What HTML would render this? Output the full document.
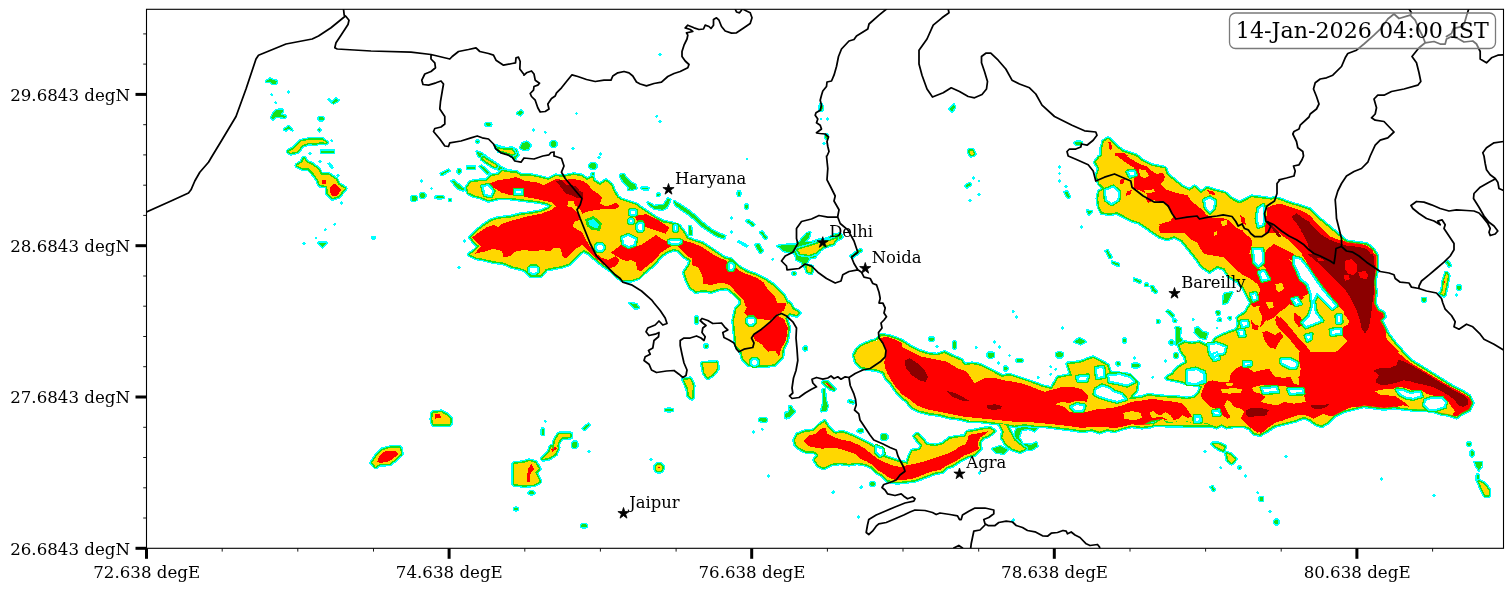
<!DOCTYPE html><html><head><meta charset="utf-8"><title>map</title><style>html,body{margin:0;padding:0;background:#fff;overflow:hidden}svg{display:block}text{font-family:"DejaVu Serif","Liberation Serif",serif;fill:#000}</style></head><body>
<svg width="1512" height="591" viewBox="0 0 1512 591">
<rect width="1512" height="591" fill="#fff"/>
<defs><clipPath id="ax"><rect x="146.5" y="9.3" width="1357.0" height="539.0"/></clipPath></defs>
<g clip-path="url(#ax)">
<g shape-rendering="crispEdges">
<path d="M270.9,94.8 L271.8,93.9 L272.6,94.8 L271.8,95.6Z M287.6,92.0 L288.5,91.1 L289.4,92.0 L288.5,92.9Z M274.9,102.8 L275.8,101.9 L276.6,102.8 L275.8,103.6Z M330.9,140.8 L331.8,139.9 L332.6,140.8 L331.8,141.6Z M308.9,153.5 L309.8,152.6 L310.6,153.5 L309.8,154.4Z M476.4,141.5 L477.2,140.6 L478.1,141.5 L477.2,142.4Z M658.9,54.5 L659.8,53.6 L660.6,54.5 L659.8,55.4Z M575.6,113.5 L576.5,112.6 L577.4,113.5 L576.5,114.4Z M655.9,116.2 L656.8,115.4 L657.6,116.2 L656.8,117.1Z M659.4,121.5 L660.2,120.6 L661.1,121.5 L660.2,122.4Z M532.6,130.0 L533.5,129.1 L534.4,130.0 L533.5,130.9Z M544.4,132.2 L545.2,131.4 L546.1,132.2 L545.2,133.1Z M572.4,148.5 L573.2,147.6 L574.1,148.5 L573.2,149.4Z M599.4,154.0 L600.2,153.1 L601.1,154.0 L600.2,154.9Z M820.1,119.0 L821.0,118.1 L821.9,119.0 L821.0,119.9Z M826.4,119.0 L827.2,118.1 L828.1,119.0 L827.2,119.9Z M823.1,143.5 L824.0,142.6 L824.9,143.5 L824.0,144.4Z M319.4,161.5 L320.2,160.6 L321.1,161.5 L320.2,162.4Z M337.1,175.5 L338.0,174.6 L338.9,175.5 L338.0,176.4Z M340.6,202.8 L341.5,201.9 L342.4,202.8 L341.5,203.6Z M333.9,224.2 L334.8,223.4 L335.6,224.2 L334.8,225.1Z M324.4,229.8 L325.2,228.9 L326.1,229.8 L325.2,230.6Z M315.1,238.0 L316.0,237.1 L316.9,238.0 L316.0,238.9Z M303.1,243.5 L304.0,242.6 L304.9,243.5 L304.0,244.4Z M458.1,267.8 L459.0,266.9 L459.9,267.8 L459.0,268.6Z M463.9,241.0 L464.8,240.1 L465.6,241.0 L464.8,241.9Z M448.4,200.2 L449.2,199.4 L450.1,200.2 L449.2,201.1Z M420.6,181.0 L421.5,180.1 L422.4,181.0 L421.5,181.9Z M430.6,188.5 L431.5,187.6 L432.4,188.5 L431.5,189.4Z M972.4,178.0 L973.2,177.1 L974.1,178.0 L973.2,178.9Z M978.1,181.0 L979.0,180.1 L979.9,181.0 L979.0,181.9Z M978.1,194.2 L979.0,193.4 L979.9,194.2 L979.0,195.1Z M969.1,200.2 L970.0,199.4 L970.9,200.2 L970.0,201.1Z M1058.6,167.2 L1059.5,166.4 L1060.4,167.2 L1059.5,168.1Z M1058.6,173.5 L1059.5,172.6 L1060.4,173.5 L1059.5,174.4Z M1058.6,181.0 L1059.5,180.1 L1060.4,181.0 L1059.5,181.9Z M1064.9,186.5 L1065.8,185.6 L1066.6,186.5 L1065.8,187.4Z M1080.6,227.2 L1081.5,226.4 L1082.4,227.2 L1081.5,228.1Z M1146.1,286.0 L1147.0,285.1 L1147.9,286.0 L1147.0,286.9Z M746.1,159.0 L747.0,158.1 L747.9,159.0 L747.0,159.9Z M598.1,157.2 L599.0,156.4 L599.9,157.2 L599.0,158.1Z M730.6,218.0 L731.5,217.1 L732.4,218.0 L731.5,218.9Z M730.6,232.2 L731.5,231.4 L732.4,232.2 L731.5,233.1Z M771.9,259.2 L772.8,258.4 L773.6,259.2 L772.8,260.1Z M544.4,421.2 L545.2,420.4 L546.1,421.2 L545.2,422.1Z M752.6,431.8 L753.5,430.9 L754.4,431.8 L753.5,432.6Z M761.4,429.2 L762.2,428.4 L763.1,429.2 L762.2,430.1Z M522.6,484.0 L523.5,483.1 L524.4,484.0 L523.5,484.9Z M588.1,451.5 L589.0,450.6 L589.9,451.5 L589.0,452.4Z M650.1,459.5 L651.0,458.6 L651.9,459.5 L651.0,460.4Z M767.6,476.0 L768.5,475.1 L769.4,476.0 L768.5,476.9Z M832.6,492.2 L833.5,491.4 L834.4,492.2 L833.5,493.1Z M860.6,487.0 L861.5,486.1 L862.4,487.0 L861.5,487.9Z M857.6,517.2 L858.5,516.4 L859.4,517.2 L858.5,518.1Z M1012.4,519.8 L1013.2,518.9 L1014.1,519.8 L1013.2,520.6Z M978.6,473.5 L979.5,472.6 L980.4,473.5 L979.5,474.4Z M1204.4,451.5 L1205.2,450.6 L1206.1,451.5 L1205.2,452.4Z M1219.9,467.8 L1220.8,466.9 L1221.6,467.8 L1220.8,468.6Z M1244.9,476.0 L1245.8,475.1 L1246.6,476.0 L1245.8,476.9Z M1256.9,492.8 L1257.8,491.9 L1258.6,492.8 L1257.8,493.6Z M1269.1,511.5 L1270.0,510.6 L1270.9,511.5 L1270.0,512.4Z M1284.9,456.5 L1285.8,455.6 L1286.6,456.5 L1285.8,457.4Z M1380.6,479.0 L1381.5,478.1 L1382.4,479.0 L1381.5,479.9Z M1433.1,495.2 L1434.0,494.4 L1434.9,495.2 L1434.0,496.1Z M860.4,487.5 L861.2,486.6 L862.1,487.5 L861.2,488.4Z M832.4,492.5 L833.2,491.6 L834.1,492.5 L833.2,493.4Z M767.9,475.8 L768.8,474.9 L769.6,475.8 L768.8,476.6Z M761.6,429.5 L762.5,428.6 L763.4,429.5 L762.5,430.4Z M857.4,517.0 L858.2,516.1 L859.1,517.0 L858.2,517.9Z M1012.1,520.5 L1013.0,519.6 L1013.9,520.5 L1013.0,521.4Z M978.4,473.0 L979.2,472.1 L980.1,473.0 L979.2,473.9Z M1455.6,294.8 L1456.5,293.9 L1457.4,294.8 L1456.5,295.6Z M936.0,346.8 L937.0,345.8 L938.0,346.8 L937.0,347.8Z M975.2,347.2 L976.2,346.2 L977.2,347.2 L976.2,348.2Z M993.5,341.8 L994.5,340.8 L995.5,341.8 L994.5,342.8Z M998.5,346.8 L999.5,345.8 L1000.5,346.8 L999.5,347.8Z M1008.5,355.5 L1009.5,354.5 L1010.5,355.5 L1009.5,356.5Z M997.2,363.0 L998.2,362.0 L999.2,363.0 L998.2,364.0Z M1037.2,377.2 L1038.2,376.2 L1039.2,377.2 L1038.2,378.2Z M1049.8,366.8 L1050.8,365.8 L1051.8,366.8 L1050.8,367.8Z M1049.8,374.2 L1050.8,373.2 L1051.8,374.2 L1050.8,375.2Z M1054.8,369.2 L1055.8,368.2 L1056.8,369.2 L1055.8,370.2Z M1012.2,311.8 L1013.2,310.8 L1014.2,311.8 L1013.2,312.8Z M1015.5,317.2 L1016.5,316.2 L1017.5,317.2 L1016.5,318.2Z M1061.8,328.0 L1062.8,327.0 L1063.8,328.0 L1062.8,329.0Z M1133.5,358.0 L1134.5,357.0 L1135.5,358.0 L1134.5,359.0Z M1151.8,377.2 L1152.8,376.2 L1153.8,377.2 L1152.8,378.2Z M1156.5,321.0 L1157.5,320.0 L1158.5,321.0 L1157.5,322.0Z M1174.8,320.5 L1175.8,319.5 L1176.8,320.5 L1175.8,321.5Z M1164.8,361.0 L1165.8,360.0 L1166.8,361.0 L1165.8,362.0Z M1192.2,319.8 L1193.2,318.8 L1194.2,319.8 L1193.2,320.8Z M1217.2,320.5 L1218.2,319.5 L1219.2,320.5 L1218.2,321.5Z M1216.0,328.0 L1217.0,327.0 L1218.0,328.0 L1217.0,329.0Z M1228.5,318.0 L1229.5,317.0 L1230.5,318.0 L1229.5,319.0Z M371.5,237.1 L372.5,236.5 L374.5,236.5 L375.5,237.1 L375.5,238.4 L374.5,239.0 L372.5,239.0 L371.5,238.4Z M328.0,163.5 L329.8,163.0 L333.0,167.2 L331.5,168.5Z M441.0,173.0 L448.5,169.8 L449.8,171.5 L443.5,174.8Z M641.5,187.2 L649.0,188.5 L648.5,190.5 L641.5,189.0Z M738.5,240.5 L747.8,245.5 L746.5,247.0 L737.8,242.2Z" fill="#00ffff" stroke="#00ffff" stroke-width="1.4"/>
<path d="M266.0,81.5 L269.8,78.5 L273.5,80.2 L277.2,81.0 L276.0,83.5 L272.2,84.0 L269.8,81.5Z M328.5,99.5 L332.2,102.0 L336.0,98.5 L338.5,100.2 L333.5,103.5Z M276.0,110.2 L282.2,109.5 L283.0,112.0 L279.8,114.0 L286.0,116.0 L284.8,117.8 L276.0,116.5 L273.5,119.5 L271.0,117.8 L273.5,112.8Z M318.5,118.0 L319.8,117.2 L322.2,117.2 L323.5,118.0 L323.5,119.5 L322.2,120.2 L319.8,120.2 L318.5,119.5Z M284.2,129.5 L288.5,126.0 L292.2,130.2 L288.5,128.5 L286.0,130.8Z M318.0,130.0 L319.2,128.8 L320.5,130.0 L319.2,131.2Z M321.0,150.5 L333.5,150.5 L333.5,152.5 L321.0,152.5Z M517.2,113.5 L521.0,110.2 L523.0,112.0 L520.5,115.2Z M485.8,123.9 L487.1,123.2 L489.9,123.2 L491.2,123.9 L491.2,125.1 L489.9,125.8 L487.1,125.8 L485.8,125.1Z M550.8,142.8 L552.1,141.5 L554.9,141.5 L556.2,142.8 L556.2,145.2 L554.9,146.5 L552.1,146.5 L550.8,145.2Z M819.5,106.1 L820.2,104.5 L821.8,104.5 L822.5,106.1 L822.5,109.4 L821.8,111.0 L820.2,111.0 L819.5,109.4Z M825.2,135.5 L825.9,134.5 L827.1,134.5 L827.8,135.5 L827.8,137.5 L827.1,138.5 L825.9,138.5 L825.2,137.5Z M949.5,109.0 L954.0,104.8 L955.0,107.0 L952.0,112.0Z M1074.8,142.5 L1076.5,141.8 L1080.0,141.8 L1081.8,142.5 L1081.8,144.0 L1080.0,144.8 L1076.5,144.8 L1074.8,144.0Z M318.5,242.8 L326.5,242.8 L322.5,247.2Z M411.5,197.4 L412.8,196.2 L415.2,196.2 L416.5,197.4 L416.5,199.6 L415.2,200.8 L412.8,200.8 L411.5,199.6Z M420.2,194.4 L421.5,193.2 L424.0,193.2 L425.2,194.4 L425.2,196.6 L424.0,197.8 L421.5,197.8 L420.2,196.6Z M435.5,196.8 L437.6,196.2 L441.9,196.2 L444.0,196.8 L444.0,197.8 L441.9,198.2 L437.6,198.2 L435.5,197.8Z M457.5,170.6 L458.2,169.8 L459.8,169.8 L460.5,170.6 L460.5,172.4 L459.8,173.2 L458.2,173.2 L457.5,172.4Z M467.2,166.5 L474.8,166.5 L474.8,168.5 L467.2,168.5Z M479.8,166.5 L483.5,167.2 L487.2,171.0 L484.8,171.5Z M451.5,181.0 L454.0,180.5 L459.8,186.0 L464.8,189.0 L463.0,190.5 L457.2,188.0Z M965.0,186.0 L970.0,183.0 L971.0,184.5 L966.5,187.5Z M1064.5,192.2 L1067.0,191.5 L1070.0,197.2 L1068.0,198.0Z M1105.8,251.0 L1107.5,250.2 L1111.5,257.2 L1109.5,258.0Z M1112.0,261.5 L1119.0,264.0 L1119.0,266.0 L1112.5,263.5Z M1134.0,278.5 L1140.8,281.0 L1140.2,282.8 L1134.0,280.2Z M1150.8,286.5 L1152.8,286.0 L1157.0,292.2 L1155.0,293.0Z M1087.0,210.5 L1092.0,211.5 L1089.0,214.8Z M476.7,151.7 L481.7,153.3 L488.3,158.3 L495.0,162.5 L501.7,167.5 L506.7,170.0 L511.7,170.8 L516.7,173.3 L511.7,175.0 L505.0,173.3 L498.3,170.0 L491.7,165.0 L485.0,160.0 L478.3,155.8Z M495.0,145.0 L500.0,146.7 L506.7,148.3 L511.7,147.5 L516.7,150.0 L518.3,155.0 L515.0,159.2 L511.7,156.7 L506.7,153.3 L500.0,150.8 L495.8,148.3Z M522.5,143.3 L526.7,141.7 L530.8,145.0 L528.3,149.2 L523.3,150.0 L520.0,147.5Z M551.0,142.2 L552.2,141.2 L554.5,141.2 L555.7,142.2 L555.7,144.4 L554.5,145.5 L552.2,145.5 L551.0,144.4Z M485.8,123.7 L487.1,123.2 L489.6,123.2 L490.8,123.7 L490.8,124.7 L489.6,125.2 L487.1,125.2 L485.8,124.7Z M590.5,164.4 L591.9,163.0 L594.8,163.0 L596.2,164.4 L596.2,167.2 L594.8,168.7 L591.9,168.7 L590.5,167.2Z M476.3,141.1 L476.9,140.5 L478.1,140.5 L478.7,141.1 L478.7,142.2 L478.1,142.8 L476.9,142.8 L476.3,142.2Z M457.8,170.1 L458.5,169.3 L459.8,169.3 L460.5,170.1 L460.5,171.6 L459.8,172.3 L458.5,172.3 L457.8,171.6Z M467.5,167.3 L469.2,166.8 L472.5,166.8 L474.2,167.3 L474.2,168.3 L472.5,168.8 L469.2,168.8 L467.5,168.3Z M480.0,166.7 L481.7,165.8 L489.2,172.5 L487.5,173.7Z M440.8,173.7 L448.3,169.7 L449.2,170.8 L441.7,175.0Z M452.0,182.0 L453.7,180.8 L462.5,187.5 L460.8,188.7Z M449.0,199.5 L449.5,199.0 L450.5,199.0 L451.0,199.5 L451.0,200.5 L450.5,201.0 L449.5,201.0 L449.0,200.5Z M641.7,187.9 L643.3,187.5 L646.7,187.5 L648.3,187.9 L648.3,188.7 L646.7,189.2 L643.3,189.2 L641.7,188.7Z M657.0,194.1 L657.7,193.5 L659.0,193.5 L659.7,194.1 L659.7,195.3 L659.0,195.8 L657.7,195.8 L657.0,195.3Z M620.0,175.0 L623.3,174.2 L628.3,181.7 L635.0,184.2 L634.2,188.3 L628.3,190.0 L630.0,185.8 L625.0,183.3 L621.7,178.3Z M1224.0,294.0 L1232.3,292.3 L1227.3,302.3 L1223.2,304.0Z M1166.5,311.5 L1168.2,310.3 L1174.0,316.0 L1172.3,317.3Z M1175.7,327.3 L1180.7,328.2 L1179.8,337.3 L1184.0,342.3 L1180.7,347.3 L1175.7,344.0 L1176.5,334.0Z M1195.7,328.2 L1200.7,332.3 L1207.3,334.0 L1205.7,339.0 L1199.8,337.3 L1194.8,332.3Z M1145.3,284.2 L1145.9,283.7 L1147.1,283.7 L1147.7,284.2 L1147.7,285.4 L1147.1,286.0 L1145.9,286.0 L1145.3,285.4Z M1152.0,289.2 L1152.6,288.7 L1153.8,288.7 L1154.3,289.2 L1154.3,290.4 L1153.8,291.0 L1152.6,291.0 L1152.0,290.4Z M1216.2,311.8 L1216.8,311.2 L1217.9,311.2 L1218.5,311.8 L1218.5,312.9 L1217.9,313.5 L1216.8,313.5 L1216.2,312.9Z M1228.7,317.6 L1229.2,317.0 L1230.4,317.0 L1231.0,317.6 L1231.0,318.8 L1230.4,319.3 L1229.2,319.3 L1228.7,318.8Z M1218.7,319.2 L1219.2,318.7 L1220.4,318.7 L1221.0,319.2 L1221.0,320.4 L1220.4,321.0 L1219.2,321.0 L1218.7,320.4Z M1157.0,320.9 L1157.6,320.3 L1158.8,320.3 L1159.3,320.9 L1159.3,322.1 L1158.8,322.7 L1157.6,322.7 L1157.0,322.1Z M1173.7,320.1 L1174.2,319.5 L1175.4,319.5 L1176.0,320.1 L1176.0,321.2 L1175.4,321.8 L1174.2,321.8 L1173.7,321.2Z M1169.5,341.8 L1170.1,341.2 L1171.2,341.2 L1171.8,341.8 L1171.8,342.9 L1171.2,343.5 L1170.1,343.5 L1169.5,342.9Z M929.2,338.4 L930.4,337.5 L932.6,337.5 L933.8,338.4 L933.8,340.1 L932.6,341.0 L930.4,341.0 L929.2,340.1Z M953.2,343.0 L953.9,341.0 L955.1,341.0 L955.8,343.0 L955.8,347.0 L955.1,349.0 L953.9,349.0 L953.2,347.0Z M987.6,353.8 L989.2,352.5 L992.3,352.5 L993.9,353.8 L993.9,356.2 L992.3,357.5 L989.2,357.5 L987.6,356.2Z M1016.5,359.9 L1018.0,359.2 L1021.0,359.2 L1022.5,359.9 L1022.5,361.1 L1021.0,361.8 L1018.0,361.8 L1016.5,361.1Z M1004.0,367.6 L1004.9,366.8 L1006.6,366.8 L1007.5,367.6 L1007.5,369.4 L1006.6,370.2 L1004.9,370.2 L1004.0,369.4Z M1056.4,353.5 L1057.9,352.2 L1061.1,352.2 L1062.6,353.5 L1062.6,356.0 L1061.1,357.2 L1057.9,357.2 L1056.4,356.0Z M1123.0,339.6 L1123.8,338.8 L1125.2,338.8 L1126.0,339.6 L1126.0,341.4 L1125.2,342.2 L1123.8,342.2 L1123.0,341.4Z M1116.8,363.0 L1117.5,362.2 L1119.0,362.2 L1119.8,363.0 L1119.8,364.5 L1119.0,365.2 L1117.5,365.2 L1116.8,364.5Z M1132.0,364.6 L1133.9,363.8 L1137.6,363.8 L1139.5,364.6 L1139.5,366.4 L1137.6,367.2 L1133.9,367.2 L1132.0,366.4Z M1177.0,329.0 L1177.6,327.0 L1178.9,327.0 L1179.5,329.0 L1179.5,333.0 L1178.9,335.0 L1177.6,335.0 L1177.0,333.0Z M1170.0,341.6 L1170.8,340.8 L1172.2,340.8 L1173.0,341.6 L1173.0,343.4 L1172.2,344.2 L1170.8,344.2 L1170.0,343.4Z M1174.0,354.2 L1174.9,353.0 L1176.6,353.0 L1177.5,354.2 L1177.5,356.8 L1176.6,358.0 L1174.9,358.0 L1174.0,356.8Z M1216.8,312.1 L1217.5,311.2 L1219.0,311.2 L1219.8,312.1 L1219.8,313.9 L1219.0,314.8 L1217.5,314.8 L1216.8,313.9Z M1074.5,341.8 L1079.5,338.0 L1085.8,341.8 L1080.8,344.2Z M1166.5,311.5 L1168.5,310.5 L1174.0,315.5 L1172.0,316.8Z M1195.8,328.0 L1198.2,327.5 L1202.0,331.8 L1207.5,333.0 L1207.0,335.5 L1200.8,334.2Z M620.2,176.0 L624.0,174.8 L629.0,181.0 L635.2,184.8 L636.5,188.5 L631.5,189.8 L626.5,184.8 L622.8,181.0Z M647.8,202.2 L654.0,206.0 L664.0,204.8 L667.8,198.5 L670.2,199.8 L667.0,207.2 L662.8,209.8 L654.0,208.5 L649.0,204.8Z M674.0,201.0 L680.2,204.8 L687.8,209.8 L694.0,214.8 L699.0,219.8 L705.2,224.8 L711.5,229.8 L719.0,233.5 L725.2,236.0 L724.0,238.5 L716.5,236.0 L709.0,231.0 L701.5,226.0 L695.2,219.8 L689.0,214.8 L681.5,209.8 L675.2,204.8Z M737.8,192.5 L738.4,191.5 L739.6,191.5 L740.2,192.5 L740.2,194.5 L739.6,195.5 L738.4,195.5 L737.8,194.5Z M745.2,205.8 L745.9,204.8 L747.1,204.8 L747.8,205.8 L747.8,207.8 L747.1,208.8 L745.9,208.8 L745.2,207.8Z M746.5,221.0 L748.5,220.0 L754.5,224.5 L753.0,226.0Z M760.2,232.2 L762.2,231.5 L767.0,238.0 L765.2,239.0Z M755.2,244.8 L759.0,244.0 L762.8,251.0 L760.2,253.0Z M689.0,226.0 L691.0,226.0 L692.0,234.8 L689.5,234.8Z M589.2,164.9 L590.4,163.8 L592.6,163.8 L593.8,164.9 L593.8,167.1 L592.6,168.2 L590.4,168.2 L589.2,167.1Z M591.5,174.0 L592.1,173.2 L593.4,173.2 L594.0,174.0 L594.0,175.5 L593.4,176.2 L592.1,176.2 L591.5,175.5Z M792.5,272.8 L793.2,272.0 L794.8,272.0 L795.5,272.8 L795.5,274.2 L794.8,275.0 L793.2,275.0 L792.5,274.2Z M850.5,256.0 L860.5,249.0 L862.0,250.5 L852.0,258.0Z M777.8,246.0 L786.5,244.8 L795.2,244.8 L800.2,241.0 L806.5,233.5 L810.2,232.2 L809.0,237.2 L804.0,242.2 L811.5,242.2 L819.0,239.8 L827.8,238.5 L834.0,234.8 L840.2,233.5 L842.8,237.2 L836.5,241.0 L829.0,244.8 L822.8,247.2 L819.0,252.2 L815.2,257.2 L809.0,258.5 L806.5,263.5 L811.5,269.8 L809.0,273.5 L805.2,268.5 L801.5,262.2 L796.5,259.8 L795.2,253.5 L789.0,252.2 L784.0,251.0Z M695.0,318.4 L695.8,316.8 L697.2,316.8 L698.0,318.4 L698.0,321.6 L697.2,323.2 L695.8,323.2 L695.0,321.6Z M704.5,345.2 L705.2,344.5 L706.8,344.5 L707.5,345.2 L707.5,346.8 L706.8,347.5 L705.2,347.5 L704.5,346.8Z M665.2,409.4 L667.1,408.8 L670.9,408.8 L672.8,409.4 L672.8,410.6 L670.9,411.2 L667.1,411.2 L665.2,410.6Z M541.5,430.1 L542.1,428.5 L543.4,428.5 L544.0,430.1 L544.0,433.4 L543.4,435.0 L542.1,435.0 L541.5,433.4Z M582.8,428.5 L588.5,423.8 L590.0,425.0 L584.0,430.0Z M572.2,443.0 L573.5,441.8 L576.0,441.8 L577.2,443.0 L577.2,445.5 L576.0,446.8 L573.5,446.8 L572.2,445.5Z M803.8,347.6 L804.5,346.8 L806.0,346.8 L806.8,347.6 L806.8,349.4 L806.0,350.2 L804.5,350.2 L803.8,349.4Z M822.8,389.2 L824.8,389.2 L826.0,403.0 L827.8,405.5 L826.5,410.5 L823.5,410.5Z M789.0,406.8 L791.0,406.0 L794.0,411.8 L792.0,413.0Z M785.2,414.1 L785.9,412.8 L787.1,412.8 L787.8,414.1 L787.8,416.9 L787.1,418.2 L785.9,418.2 L785.2,416.9Z M759.2,419.0 L761.0,418.2 L764.5,418.2 L766.2,419.0 L766.2,420.5 L764.5,421.2 L761.0,421.2 L759.2,420.5Z M849.0,400.0 L854.0,401.8 L853.5,403.5 L848.5,402.0Z M881.8,435.4 L883.1,434.0 L885.9,434.0 L887.2,435.4 L887.2,438.1 L885.9,439.5 L883.1,439.5 L881.8,438.1Z M857.8,430.4 L859.0,429.8 L861.5,429.8 L862.8,430.4 L862.8,431.6 L861.5,432.2 L859.0,432.2 L857.8,431.6Z M629.0,303.0 L636.5,304.2 L639.0,308.0 L635.2,308.5 L631.5,305.5Z M514.2,508.4 L515.1,507.8 L516.9,507.8 L517.8,508.4 L517.8,509.6 L516.9,510.2 L515.1,510.2 L514.2,509.6Z M528.8,492.0 L530.1,491.2 L532.9,491.2 L534.2,492.0 L534.2,493.5 L532.9,494.2 L530.1,494.2 L528.8,493.5Z M581.2,525.0 L582.6,524.2 L585.4,524.2 L586.8,525.0 L586.8,526.5 L585.4,527.2 L582.6,527.2 L581.2,526.5Z M870.0,483.0 L871.1,482.0 L873.4,482.0 L874.5,483.0 L874.5,485.0 L873.4,486.0 L871.1,486.0 L870.0,485.0Z M572.2,444.0 L573.5,442.8 L576.0,442.8 L577.2,444.0 L577.2,446.5 L576.0,447.8 L573.5,447.8 L572.2,446.5Z M1238.5,467.1 L1239.0,466.5 L1240.0,466.5 L1240.5,467.1 L1240.5,468.4 L1240.0,469.0 L1239.0,469.0 L1238.5,468.4Z M1210.8,487.0 L1212.5,486.0 L1215.0,490.0 L1213.5,491.0Z M1259.5,498.0 L1260.4,497.0 L1262.1,497.0 L1263.0,498.0 L1263.0,500.0 L1262.1,501.0 L1260.4,501.0 L1259.5,500.0Z M1274.2,520.9 L1275.2,519.8 L1277.2,519.8 L1278.2,520.9 L1278.2,523.1 L1277.2,524.2 L1275.2,524.2 L1274.2,523.1Z M1467.0,443.2 L1468.0,442.5 L1470.0,442.5 L1471.0,443.2 L1471.0,444.8 L1470.0,445.5 L1468.0,445.5 L1467.0,444.8Z M1470.5,452.1 L1471.2,450.8 L1472.8,450.8 L1473.5,452.1 L1473.5,454.9 L1472.8,456.2 L1471.2,456.2 L1470.5,454.9Z M1476.5,476.1 L1477.1,474.5 L1478.4,474.5 L1479.0,476.1 L1479.0,479.4 L1478.4,481.0 L1477.1,481.0 L1476.5,479.4Z M1474.5,462.0 L1482.0,462.0 L1481.5,466.5 L1479.0,470.2 L1477.0,467.8Z M1446.0,262.2 L1447.8,261.0 L1451.0,265.5 L1449.0,266.5Z M1457.0,286.8 L1458.0,285.8 L1460.0,285.8 L1461.0,286.8 L1461.0,288.8 L1460.0,289.8 L1458.0,289.8 L1457.0,288.8Z M1422.0,298.9 L1423.0,298.0 L1425.0,298.0 L1426.0,298.9 L1426.0,300.6 L1425.0,301.5 L1423.0,301.5 L1422.0,300.6Z M821.2,411.2 L823.8,401.2 L827.0,402.5 L825.5,410.0Z M786.2,415.0 L791.2,407.5 L795.0,411.2 L788.8,417.5Z M760.8,419.1 L762.2,418.2 L765.2,418.2 L766.8,419.1 L766.8,420.9 L765.2,421.8 L762.2,421.8 L760.8,420.9Z M881.2,435.5 L882.5,434.0 L885.0,434.0 L886.2,435.5 L886.2,438.5 L885.0,440.0 L882.5,440.0 L881.2,438.5Z M859.8,429.8 L860.5,429.0 L862.0,429.0 L862.8,429.8 L862.8,431.2 L862.0,432.0 L860.5,432.0 L859.8,431.2Z M870.0,483.5 L871.2,482.8 L873.8,482.8 L875.0,483.5 L875.0,485.0 L873.8,485.8 L871.2,485.8 L870.0,485.0Z M1017.5,426.2 L1028.8,423.8 L1037.5,427.5 L1035.0,431.2 L1028.8,428.8 L1021.2,430.0 L1018.8,437.5 L1022.5,443.8 L1031.2,445.0 L1036.2,442.5 L1037.5,446.2 L1031.2,450.0 L1021.2,448.8 L1015.0,442.5 L1015.0,432.5Z M992.5,448.8 L1000.0,446.2 L1007.5,450.0 L1003.8,453.8 L996.2,452.5Z" fill="#18e018" stroke="#00ffff" stroke-width="2.8" stroke-linejoin="round"/>
<path d="M266.0,81.5 L269.8,78.5 L273.5,80.2 L277.2,81.0 L276.0,83.5 L272.2,84.0 L269.8,81.5Z M328.5,99.5 L332.2,102.0 L336.0,98.5 L338.5,100.2 L333.5,103.5Z M276.0,110.2 L282.2,109.5 L283.0,112.0 L279.8,114.0 L286.0,116.0 L284.8,117.8 L276.0,116.5 L273.5,119.5 L271.0,117.8 L273.5,112.8Z M318.5,118.0 L319.8,117.2 L322.2,117.2 L323.5,118.0 L323.5,119.5 L322.2,120.2 L319.8,120.2 L318.5,119.5Z M284.2,129.5 L288.5,126.0 L292.2,130.2 L288.5,128.5 L286.0,130.8Z M318.0,130.0 L319.2,128.8 L320.5,130.0 L319.2,131.2Z M321.0,150.5 L333.5,150.5 L333.5,152.5 L321.0,152.5Z M517.2,113.5 L521.0,110.2 L523.0,112.0 L520.5,115.2Z M485.8,123.9 L487.1,123.2 L489.9,123.2 L491.2,123.9 L491.2,125.1 L489.9,125.8 L487.1,125.8 L485.8,125.1Z M550.8,142.8 L552.1,141.5 L554.9,141.5 L556.2,142.8 L556.2,145.2 L554.9,146.5 L552.1,146.5 L550.8,145.2Z M819.5,106.1 L820.2,104.5 L821.8,104.5 L822.5,106.1 L822.5,109.4 L821.8,111.0 L820.2,111.0 L819.5,109.4Z M825.2,135.5 L825.9,134.5 L827.1,134.5 L827.8,135.5 L827.8,137.5 L827.1,138.5 L825.9,138.5 L825.2,137.5Z M949.5,109.0 L954.0,104.8 L955.0,107.0 L952.0,112.0Z M1074.8,142.5 L1076.5,141.8 L1080.0,141.8 L1081.8,142.5 L1081.8,144.0 L1080.0,144.8 L1076.5,144.8 L1074.8,144.0Z M318.5,242.8 L326.5,242.8 L322.5,247.2Z M411.5,197.4 L412.8,196.2 L415.2,196.2 L416.5,197.4 L416.5,199.6 L415.2,200.8 L412.8,200.8 L411.5,199.6Z M420.2,194.4 L421.5,193.2 L424.0,193.2 L425.2,194.4 L425.2,196.6 L424.0,197.8 L421.5,197.8 L420.2,196.6Z M435.5,196.8 L437.6,196.2 L441.9,196.2 L444.0,196.8 L444.0,197.8 L441.9,198.2 L437.6,198.2 L435.5,197.8Z M457.5,170.6 L458.2,169.8 L459.8,169.8 L460.5,170.6 L460.5,172.4 L459.8,173.2 L458.2,173.2 L457.5,172.4Z M467.2,166.5 L474.8,166.5 L474.8,168.5 L467.2,168.5Z M479.8,166.5 L483.5,167.2 L487.2,171.0 L484.8,171.5Z M451.5,181.0 L454.0,180.5 L459.8,186.0 L464.8,189.0 L463.0,190.5 L457.2,188.0Z M965.0,186.0 L970.0,183.0 L971.0,184.5 L966.5,187.5Z M1064.5,192.2 L1067.0,191.5 L1070.0,197.2 L1068.0,198.0Z M1105.8,251.0 L1107.5,250.2 L1111.5,257.2 L1109.5,258.0Z M1112.0,261.5 L1119.0,264.0 L1119.0,266.0 L1112.5,263.5Z M1134.0,278.5 L1140.8,281.0 L1140.2,282.8 L1134.0,280.2Z M1150.8,286.5 L1152.8,286.0 L1157.0,292.2 L1155.0,293.0Z M1087.0,210.5 L1092.0,211.5 L1089.0,214.8Z M476.7,151.7 L481.7,153.3 L488.3,158.3 L495.0,162.5 L501.7,167.5 L506.7,170.0 L511.7,170.8 L516.7,173.3 L511.7,175.0 L505.0,173.3 L498.3,170.0 L491.7,165.0 L485.0,160.0 L478.3,155.8Z M495.0,145.0 L500.0,146.7 L506.7,148.3 L511.7,147.5 L516.7,150.0 L518.3,155.0 L515.0,159.2 L511.7,156.7 L506.7,153.3 L500.0,150.8 L495.8,148.3Z M522.5,143.3 L526.7,141.7 L530.8,145.0 L528.3,149.2 L523.3,150.0 L520.0,147.5Z M551.0,142.2 L552.2,141.2 L554.5,141.2 L555.7,142.2 L555.7,144.4 L554.5,145.5 L552.2,145.5 L551.0,144.4Z M485.8,123.7 L487.1,123.2 L489.6,123.2 L490.8,123.7 L490.8,124.7 L489.6,125.2 L487.1,125.2 L485.8,124.7Z M590.5,164.4 L591.9,163.0 L594.8,163.0 L596.2,164.4 L596.2,167.2 L594.8,168.7 L591.9,168.7 L590.5,167.2Z M476.3,141.1 L476.9,140.5 L478.1,140.5 L478.7,141.1 L478.7,142.2 L478.1,142.8 L476.9,142.8 L476.3,142.2Z M457.8,170.1 L458.5,169.3 L459.8,169.3 L460.5,170.1 L460.5,171.6 L459.8,172.3 L458.5,172.3 L457.8,171.6Z M467.5,167.3 L469.2,166.8 L472.5,166.8 L474.2,167.3 L474.2,168.3 L472.5,168.8 L469.2,168.8 L467.5,168.3Z M480.0,166.7 L481.7,165.8 L489.2,172.5 L487.5,173.7Z M440.8,173.7 L448.3,169.7 L449.2,170.8 L441.7,175.0Z M452.0,182.0 L453.7,180.8 L462.5,187.5 L460.8,188.7Z M449.0,199.5 L449.5,199.0 L450.5,199.0 L451.0,199.5 L451.0,200.5 L450.5,201.0 L449.5,201.0 L449.0,200.5Z M641.7,187.9 L643.3,187.5 L646.7,187.5 L648.3,187.9 L648.3,188.7 L646.7,189.2 L643.3,189.2 L641.7,188.7Z M657.0,194.1 L657.7,193.5 L659.0,193.5 L659.7,194.1 L659.7,195.3 L659.0,195.8 L657.7,195.8 L657.0,195.3Z M620.0,175.0 L623.3,174.2 L628.3,181.7 L635.0,184.2 L634.2,188.3 L628.3,190.0 L630.0,185.8 L625.0,183.3 L621.7,178.3Z M1224.0,294.0 L1232.3,292.3 L1227.3,302.3 L1223.2,304.0Z M1166.5,311.5 L1168.2,310.3 L1174.0,316.0 L1172.3,317.3Z M1175.7,327.3 L1180.7,328.2 L1179.8,337.3 L1184.0,342.3 L1180.7,347.3 L1175.7,344.0 L1176.5,334.0Z M1195.7,328.2 L1200.7,332.3 L1207.3,334.0 L1205.7,339.0 L1199.8,337.3 L1194.8,332.3Z M1145.3,284.2 L1145.9,283.7 L1147.1,283.7 L1147.7,284.2 L1147.7,285.4 L1147.1,286.0 L1145.9,286.0 L1145.3,285.4Z M1152.0,289.2 L1152.6,288.7 L1153.8,288.7 L1154.3,289.2 L1154.3,290.4 L1153.8,291.0 L1152.6,291.0 L1152.0,290.4Z M1216.2,311.8 L1216.8,311.2 L1217.9,311.2 L1218.5,311.8 L1218.5,312.9 L1217.9,313.5 L1216.8,313.5 L1216.2,312.9Z M1228.7,317.6 L1229.2,317.0 L1230.4,317.0 L1231.0,317.6 L1231.0,318.8 L1230.4,319.3 L1229.2,319.3 L1228.7,318.8Z M1218.7,319.2 L1219.2,318.7 L1220.4,318.7 L1221.0,319.2 L1221.0,320.4 L1220.4,321.0 L1219.2,321.0 L1218.7,320.4Z M1157.0,320.9 L1157.6,320.3 L1158.8,320.3 L1159.3,320.9 L1159.3,322.1 L1158.8,322.7 L1157.6,322.7 L1157.0,322.1Z M1173.7,320.1 L1174.2,319.5 L1175.4,319.5 L1176.0,320.1 L1176.0,321.2 L1175.4,321.8 L1174.2,321.8 L1173.7,321.2Z M1169.5,341.8 L1170.1,341.2 L1171.2,341.2 L1171.8,341.8 L1171.8,342.9 L1171.2,343.5 L1170.1,343.5 L1169.5,342.9Z M929.2,338.4 L930.4,337.5 L932.6,337.5 L933.8,338.4 L933.8,340.1 L932.6,341.0 L930.4,341.0 L929.2,340.1Z M953.2,343.0 L953.9,341.0 L955.1,341.0 L955.8,343.0 L955.8,347.0 L955.1,349.0 L953.9,349.0 L953.2,347.0Z M987.6,353.8 L989.2,352.5 L992.3,352.5 L993.9,353.8 L993.9,356.2 L992.3,357.5 L989.2,357.5 L987.6,356.2Z M1016.5,359.9 L1018.0,359.2 L1021.0,359.2 L1022.5,359.9 L1022.5,361.1 L1021.0,361.8 L1018.0,361.8 L1016.5,361.1Z M1004.0,367.6 L1004.9,366.8 L1006.6,366.8 L1007.5,367.6 L1007.5,369.4 L1006.6,370.2 L1004.9,370.2 L1004.0,369.4Z M1056.4,353.5 L1057.9,352.2 L1061.1,352.2 L1062.6,353.5 L1062.6,356.0 L1061.1,357.2 L1057.9,357.2 L1056.4,356.0Z M1123.0,339.6 L1123.8,338.8 L1125.2,338.8 L1126.0,339.6 L1126.0,341.4 L1125.2,342.2 L1123.8,342.2 L1123.0,341.4Z M1116.8,363.0 L1117.5,362.2 L1119.0,362.2 L1119.8,363.0 L1119.8,364.5 L1119.0,365.2 L1117.5,365.2 L1116.8,364.5Z M1132.0,364.6 L1133.9,363.8 L1137.6,363.8 L1139.5,364.6 L1139.5,366.4 L1137.6,367.2 L1133.9,367.2 L1132.0,366.4Z M1177.0,329.0 L1177.6,327.0 L1178.9,327.0 L1179.5,329.0 L1179.5,333.0 L1178.9,335.0 L1177.6,335.0 L1177.0,333.0Z M1170.0,341.6 L1170.8,340.8 L1172.2,340.8 L1173.0,341.6 L1173.0,343.4 L1172.2,344.2 L1170.8,344.2 L1170.0,343.4Z M1174.0,354.2 L1174.9,353.0 L1176.6,353.0 L1177.5,354.2 L1177.5,356.8 L1176.6,358.0 L1174.9,358.0 L1174.0,356.8Z M1216.8,312.1 L1217.5,311.2 L1219.0,311.2 L1219.8,312.1 L1219.8,313.9 L1219.0,314.8 L1217.5,314.8 L1216.8,313.9Z M1074.5,341.8 L1079.5,338.0 L1085.8,341.8 L1080.8,344.2Z M1166.5,311.5 L1168.5,310.5 L1174.0,315.5 L1172.0,316.8Z M1195.8,328.0 L1198.2,327.5 L1202.0,331.8 L1207.5,333.0 L1207.0,335.5 L1200.8,334.2Z M620.2,176.0 L624.0,174.8 L629.0,181.0 L635.2,184.8 L636.5,188.5 L631.5,189.8 L626.5,184.8 L622.8,181.0Z M647.8,202.2 L654.0,206.0 L664.0,204.8 L667.8,198.5 L670.2,199.8 L667.0,207.2 L662.8,209.8 L654.0,208.5 L649.0,204.8Z M674.0,201.0 L680.2,204.8 L687.8,209.8 L694.0,214.8 L699.0,219.8 L705.2,224.8 L711.5,229.8 L719.0,233.5 L725.2,236.0 L724.0,238.5 L716.5,236.0 L709.0,231.0 L701.5,226.0 L695.2,219.8 L689.0,214.8 L681.5,209.8 L675.2,204.8Z M737.8,192.5 L738.4,191.5 L739.6,191.5 L740.2,192.5 L740.2,194.5 L739.6,195.5 L738.4,195.5 L737.8,194.5Z M745.2,205.8 L745.9,204.8 L747.1,204.8 L747.8,205.8 L747.8,207.8 L747.1,208.8 L745.9,208.8 L745.2,207.8Z M746.5,221.0 L748.5,220.0 L754.5,224.5 L753.0,226.0Z M760.2,232.2 L762.2,231.5 L767.0,238.0 L765.2,239.0Z M755.2,244.8 L759.0,244.0 L762.8,251.0 L760.2,253.0Z M689.0,226.0 L691.0,226.0 L692.0,234.8 L689.5,234.8Z M589.2,164.9 L590.4,163.8 L592.6,163.8 L593.8,164.9 L593.8,167.1 L592.6,168.2 L590.4,168.2 L589.2,167.1Z M591.5,174.0 L592.1,173.2 L593.4,173.2 L594.0,174.0 L594.0,175.5 L593.4,176.2 L592.1,176.2 L591.5,175.5Z M792.5,272.8 L793.2,272.0 L794.8,272.0 L795.5,272.8 L795.5,274.2 L794.8,275.0 L793.2,275.0 L792.5,274.2Z M850.5,256.0 L860.5,249.0 L862.0,250.5 L852.0,258.0Z M777.8,246.0 L786.5,244.8 L795.2,244.8 L800.2,241.0 L806.5,233.5 L810.2,232.2 L809.0,237.2 L804.0,242.2 L811.5,242.2 L819.0,239.8 L827.8,238.5 L834.0,234.8 L840.2,233.5 L842.8,237.2 L836.5,241.0 L829.0,244.8 L822.8,247.2 L819.0,252.2 L815.2,257.2 L809.0,258.5 L806.5,263.5 L811.5,269.8 L809.0,273.5 L805.2,268.5 L801.5,262.2 L796.5,259.8 L795.2,253.5 L789.0,252.2 L784.0,251.0Z M695.0,318.4 L695.8,316.8 L697.2,316.8 L698.0,318.4 L698.0,321.6 L697.2,323.2 L695.8,323.2 L695.0,321.6Z M704.5,345.2 L705.2,344.5 L706.8,344.5 L707.5,345.2 L707.5,346.8 L706.8,347.5 L705.2,347.5 L704.5,346.8Z M665.2,409.4 L667.1,408.8 L670.9,408.8 L672.8,409.4 L672.8,410.6 L670.9,411.2 L667.1,411.2 L665.2,410.6Z M541.5,430.1 L542.1,428.5 L543.4,428.5 L544.0,430.1 L544.0,433.4 L543.4,435.0 L542.1,435.0 L541.5,433.4Z M582.8,428.5 L588.5,423.8 L590.0,425.0 L584.0,430.0Z M572.2,443.0 L573.5,441.8 L576.0,441.8 L577.2,443.0 L577.2,445.5 L576.0,446.8 L573.5,446.8 L572.2,445.5Z M803.8,347.6 L804.5,346.8 L806.0,346.8 L806.8,347.6 L806.8,349.4 L806.0,350.2 L804.5,350.2 L803.8,349.4Z M822.8,389.2 L824.8,389.2 L826.0,403.0 L827.8,405.5 L826.5,410.5 L823.5,410.5Z M789.0,406.8 L791.0,406.0 L794.0,411.8 L792.0,413.0Z M785.2,414.1 L785.9,412.8 L787.1,412.8 L787.8,414.1 L787.8,416.9 L787.1,418.2 L785.9,418.2 L785.2,416.9Z M759.2,419.0 L761.0,418.2 L764.5,418.2 L766.2,419.0 L766.2,420.5 L764.5,421.2 L761.0,421.2 L759.2,420.5Z M849.0,400.0 L854.0,401.8 L853.5,403.5 L848.5,402.0Z M881.8,435.4 L883.1,434.0 L885.9,434.0 L887.2,435.4 L887.2,438.1 L885.9,439.5 L883.1,439.5 L881.8,438.1Z M857.8,430.4 L859.0,429.8 L861.5,429.8 L862.8,430.4 L862.8,431.6 L861.5,432.2 L859.0,432.2 L857.8,431.6Z M629.0,303.0 L636.5,304.2 L639.0,308.0 L635.2,308.5 L631.5,305.5Z M514.2,508.4 L515.1,507.8 L516.9,507.8 L517.8,508.4 L517.8,509.6 L516.9,510.2 L515.1,510.2 L514.2,509.6Z M528.8,492.0 L530.1,491.2 L532.9,491.2 L534.2,492.0 L534.2,493.5 L532.9,494.2 L530.1,494.2 L528.8,493.5Z M581.2,525.0 L582.6,524.2 L585.4,524.2 L586.8,525.0 L586.8,526.5 L585.4,527.2 L582.6,527.2 L581.2,526.5Z M870.0,483.0 L871.1,482.0 L873.4,482.0 L874.5,483.0 L874.5,485.0 L873.4,486.0 L871.1,486.0 L870.0,485.0Z M572.2,444.0 L573.5,442.8 L576.0,442.8 L577.2,444.0 L577.2,446.5 L576.0,447.8 L573.5,447.8 L572.2,446.5Z M1238.5,467.1 L1239.0,466.5 L1240.0,466.5 L1240.5,467.1 L1240.5,468.4 L1240.0,469.0 L1239.0,469.0 L1238.5,468.4Z M1210.8,487.0 L1212.5,486.0 L1215.0,490.0 L1213.5,491.0Z M1259.5,498.0 L1260.4,497.0 L1262.1,497.0 L1263.0,498.0 L1263.0,500.0 L1262.1,501.0 L1260.4,501.0 L1259.5,500.0Z M1274.2,520.9 L1275.2,519.8 L1277.2,519.8 L1278.2,520.9 L1278.2,523.1 L1277.2,524.2 L1275.2,524.2 L1274.2,523.1Z M1467.0,443.2 L1468.0,442.5 L1470.0,442.5 L1471.0,443.2 L1471.0,444.8 L1470.0,445.5 L1468.0,445.5 L1467.0,444.8Z M1470.5,452.1 L1471.2,450.8 L1472.8,450.8 L1473.5,452.1 L1473.5,454.9 L1472.8,456.2 L1471.2,456.2 L1470.5,454.9Z M1476.5,476.1 L1477.1,474.5 L1478.4,474.5 L1479.0,476.1 L1479.0,479.4 L1478.4,481.0 L1477.1,481.0 L1476.5,479.4Z M1474.5,462.0 L1482.0,462.0 L1481.5,466.5 L1479.0,470.2 L1477.0,467.8Z M1446.0,262.2 L1447.8,261.0 L1451.0,265.5 L1449.0,266.5Z M1457.0,286.8 L1458.0,285.8 L1460.0,285.8 L1461.0,286.8 L1461.0,288.8 L1460.0,289.8 L1458.0,289.8 L1457.0,288.8Z M1422.0,298.9 L1423.0,298.0 L1425.0,298.0 L1426.0,298.9 L1426.0,300.6 L1425.0,301.5 L1423.0,301.5 L1422.0,300.6Z M821.2,411.2 L823.8,401.2 L827.0,402.5 L825.5,410.0Z M786.2,415.0 L791.2,407.5 L795.0,411.2 L788.8,417.5Z M760.8,419.1 L762.2,418.2 L765.2,418.2 L766.8,419.1 L766.8,420.9 L765.2,421.8 L762.2,421.8 L760.8,420.9Z M881.2,435.5 L882.5,434.0 L885.0,434.0 L886.2,435.5 L886.2,438.5 L885.0,440.0 L882.5,440.0 L881.2,438.5Z M859.8,429.8 L860.5,429.0 L862.0,429.0 L862.8,429.8 L862.8,431.2 L862.0,432.0 L860.5,432.0 L859.8,431.2Z M870.0,483.5 L871.2,482.8 L873.8,482.8 L875.0,483.5 L875.0,485.0 L873.8,485.8 L871.2,485.8 L870.0,485.0Z M1017.5,426.2 L1028.8,423.8 L1037.5,427.5 L1035.0,431.2 L1028.8,428.8 L1021.2,430.0 L1018.8,437.5 L1022.5,443.8 L1031.2,445.0 L1036.2,442.5 L1037.5,446.2 L1031.2,450.0 L1021.2,448.8 L1015.0,442.5 L1015.0,432.5Z M992.5,448.8 L1000.0,446.2 L1007.5,450.0 L1003.8,453.8 L996.2,452.5Z" fill="#18e018"/>
<path d="M288.5,151.5 L293.5,149.0 L301.0,141.5 L311.0,139.5 L322.2,139.5 L326.0,142.8 L321.0,142.0 L316.0,143.2 L308.5,142.8 L302.2,145.2 L297.2,151.5 L291.0,152.8Z M969.5,151.0 L972.0,150.5 L974.0,154.0 L971.0,155.0Z M297.2,165.5 L302.2,162.2 L304.0,158.5 L306.0,162.2 L312.2,164.8 L318.5,169.8 L321.0,174.8 L328.5,174.8 L336.0,179.8 L338.5,184.8 L344.8,188.5 L338.5,196.0 L332.2,198.0 L328.0,193.5 L327.2,186.0 L319.8,184.8 L318.0,179.8 L313.5,173.5 L308.5,168.5 L302.2,168.0Z M433.0,413.0 L441.0,412.2 L447.2,415.5 L450.5,419.2 L449.8,424.2 L433.5,424.2 L432.2,419.2Z M372.2,462.8 L377.2,455.2 L382.2,450.2 L391.0,447.8 L399.8,447.8 L401.0,454.0 L394.8,459.5 L389.8,463.5 L379.8,464.0 L375.5,466.5Z M702.8,363.5 L716.5,363.0 L717.0,368.5 L712.8,374.2 L707.8,377.5 L704.5,373.0Z M684.0,380.0 L690.2,379.2 L692.8,385.5 L692.0,398.0 L689.0,395.5 L687.8,388.0Z M553.5,450.0 L555.2,440.5 L559.0,434.2 L570.2,434.2 L570.2,436.8 L561.5,437.5 L557.8,443.0 L556.5,450.0 L555.2,445.2 L557.8,447.8 L555.2,454.0 L549.0,457.8 L542.8,459.0 L549.0,452.8 L551.5,446.5Z M824.0,382.5 L827.8,383.0 L834.0,389.2 L830.2,388.0Z M514.0,464.0 L524.0,462.8 L529.0,461.0 L535.2,462.8 L539.0,469.0 L535.2,472.8 L539.5,481.5 L534.0,484.5 L524.0,485.2 L514.0,484.0Z M656.0,466.2 L657.5,464.8 L660.5,464.8 L662.0,466.2 L662.0,469.2 L660.5,470.8 L657.5,470.8 L656.0,469.2Z M1213.2,444.0 L1218.2,444.0 L1224.5,447.0 L1223.2,450.2 L1218.2,447.8Z M1227.0,453.5 L1230.8,455.2 L1235.0,459.0 L1231.5,462.8 L1228.2,460.2Z M1479.0,481.5 L1484.0,484.0 L1488.5,490.2 L1488.5,495.2 L1485.2,495.2 L1482.0,489.0Z M1442.8,291.0 L1444.0,281.0 L1446.5,273.5 L1447.8,276.0 L1446.0,286.0 L1444.0,294.8 L1441.0,293.5Z M498.3,148.7 L506.7,150.0 L511.7,149.7 L514.2,153.3 L511.7,154.2 L505.8,152.0 L499.2,150.3Z M483.3,157.5 L490.0,161.7 L496.7,165.8 L495.0,167.0 L488.3,163.0 L482.5,158.7Z M797.8,249.8 L806.5,247.2 L817.8,243.5 L830.2,241.0 L836.5,238.5 L832.8,243.5 L822.8,246.5 L816.5,252.2 L809.0,254.8 L800.2,253.5Z M806.5,266.0 L811.5,267.2 L811.0,272.2 L807.8,271.5Z M1000.0,423.8 L1006.2,425.0 L1010.0,432.5 L1013.8,440.0 L1020.0,445.0 L1025.0,448.8 L1020.0,451.2 L1012.5,448.8 L1006.2,443.8 L1002.5,437.5 L1003.8,431.2Z M795.0,440.0 L797.5,435.0 L805.0,432.0 L813.8,431.2 L820.0,425.0 L824.5,422.0 L827.0,426.2 L831.2,431.2 L835.0,433.8 L842.5,432.5 L848.8,435.0 L855.0,437.5 L860.0,440.0 L867.5,443.8 L873.8,447.5 L880.0,452.5 L885.0,457.5 L892.5,460.0 L900.0,462.5 L907.5,463.8 L910.0,456.2 L912.5,451.2 L920.0,450.0 L922.5,445.0 L918.8,441.2 L915.0,436.2 L917.5,434.5 L922.5,440.0 L926.2,445.0 L935.0,446.2 L942.5,444.5 L950.0,438.8 L957.5,437.5 L965.0,437.0 L967.5,432.5 L975.0,431.2 L982.5,429.5 L990.0,428.8 L993.8,431.2 L988.8,435.0 L982.5,437.5 L978.8,442.5 L980.0,448.8 L975.0,453.8 L967.5,456.2 L960.0,460.0 L952.5,465.0 L946.2,467.0 L942.5,471.2 L935.0,472.5 L925.0,476.2 L915.0,480.0 L905.0,481.2 L896.2,482.0 L887.5,480.0 L882.5,475.0 L876.2,471.2 L871.2,466.2 L865.0,463.8 L857.5,462.5 L848.8,463.8 L840.0,462.5 L831.2,463.8 L823.8,467.5 L818.8,465.5 L815.0,460.0 L818.8,455.0 L813.8,451.2 L806.2,451.2 L801.2,448.8 L796.2,445.0Z M467.2,187.5 L471.0,182.5 L479.8,181.2 L486.0,181.2 L491.0,176.2 L498.5,175.0 L502.2,171.2 L509.8,172.5 L516.0,172.5 L519.8,175.5 L528.5,175.5 L538.5,177.5 L548.5,180.0 L556.0,176.2 L563.5,177.0 L573.5,175.0 L581.0,176.2 L587.2,180.0 L592.2,177.5 L593.5,181.2 L599.8,185.0 L606.0,181.2 L611.0,185.0 L613.5,191.2 L617.2,197.5 L621.0,200.0 L628.5,202.5 L636.0,205.0 L641.0,208.8 L648.5,213.8 L656.0,218.8 L663.5,222.5 L671.0,223.8 L678.5,226.2 L683.5,232.5 L687.2,238.8 L693.5,241.2 L702.2,243.8 L709.8,248.8 L717.2,253.8 L724.8,258.8 L731.0,260.0 L738.5,267.5 L747.2,272.5 L756.0,275.5 L764.8,280.0 L772.2,285.0 L778.5,291.2 L783.5,296.2 L787.2,303.8 L789.0,303.0 L792.8,309.2 L799.0,313.0 L796.5,315.0 L789.0,313.0 L785.2,318.0 L788.5,328.0 L786.5,340.5 L782.8,348.0 L781.5,356.8 L774.0,364.2 L764.0,365.5 L749.0,364.2 L743.5,359.2 L741.5,351.8 L736.5,345.5 L735.2,333.0 L734.0,320.5 L736.5,309.2 L741.5,304.2 L741.0,300.0 L733.5,292.5 L727.2,287.5 L718.5,288.8 L711.0,291.2 L703.5,290.0 L696.0,291.2 L691.0,287.5 L687.2,280.0 L684.8,272.5 L689.8,265.0 L691.0,260.0 L684.8,256.2 L678.5,250.0 L673.5,248.8 L667.2,251.2 L659.8,256.2 L656.0,261.2 L651.0,266.2 L643.5,272.5 L638.5,277.5 L631.0,280.0 L622.2,279.5 L617.2,276.2 L611.0,270.0 L603.5,265.0 L596.0,258.8 L588.5,252.5 L583.5,250.0 L578.5,253.8 L573.5,258.8 L568.5,263.8 L561.0,266.2 L553.5,267.5 L546.0,268.8 L541.0,275.0 L531.0,275.5 L526.0,270.0 L519.8,268.0 L512.2,266.2 L503.5,262.5 L493.5,261.2 L483.5,258.8 L476.0,257.5 L469.8,254.5 L474.8,251.2 L479.8,246.2 L474.8,242.5 L471.0,237.5 L477.2,231.2 L483.5,226.2 L491.0,221.2 L498.5,218.8 L511.0,217.5 L521.0,215.0 L531.0,213.8 L541.0,212.0 L548.5,208.8 L552.2,205.8 L547.2,203.0 L538.5,201.2 L528.5,200.0 L518.5,198.8 L508.5,197.5 L498.5,197.5 L488.5,200.0 L481.0,197.0 L473.5,195.0 L468.5,192.5Z M1102.0,156.0 L1102.0,149.0 L1104.0,141.5 L1108.2,139.0 L1114.5,145.2 L1122.0,151.5 L1129.5,154.0 L1135.8,156.0 L1142.0,161.0 L1152.0,166.0 L1164.5,168.5 L1167.0,174.8 L1174.5,181.0 L1182.0,187.2 L1189.5,191.0 L1194.5,187.2 L1200.8,193.5 L1207.0,188.5 L1214.5,191.0 L1224.5,193.5 L1232.0,199.8 L1239.5,203.5 L1247.0,199.8 L1252.0,197.2 L1262.0,198.5 L1272.0,199.8 L1274.0,198.5 L1279.0,199.8 L1289.0,203.5 L1301.5,207.2 L1309.0,209.8 L1316.5,217.2 L1324.0,223.5 L1331.5,229.8 L1339.0,236.0 L1346.5,242.2 L1356.5,243.5 L1366.5,244.8 L1372.8,249.8 L1376.5,256.0 L1376.5,268.5 L1374.0,281.0 L1375.2,292.2 L1374.0,303.0 L1377.8,310.5 L1382.8,313.0 L1384.0,316.8 L1380.2,320.5 L1384.0,326.8 L1386.5,333.0 L1394.0,343.0 L1402.8,353.0 L1411.5,361.8 L1421.5,368.0 L1431.5,374.2 L1441.5,380.5 L1451.5,386.8 L1461.5,391.8 L1469.0,396.8 L1472.0,403.0 L1469.0,409.2 L1461.5,413.0 L1456.5,416.8 L1449.0,414.2 L1441.5,413.0 L1434.0,410.5 L1424.0,409.2 L1414.0,409.2 L1404.0,408.0 L1394.0,406.8 L1384.0,408.0 L1374.0,406.8 L1364.0,405.5 L1354.0,408.0 L1344.0,410.5 L1334.0,415.5 L1327.8,421.8 L1321.5,425.5 L1315.2,423.0 L1310.2,419.2 L1304.0,416.8 L1294.0,420.5 L1284.0,423.0 L1274.0,425.5 L1266.5,430.5 L1260.2,434.2 L1254.0,433.0 L1250.2,428.0 L1244.0,425.5 L1234.0,425.5 L1226.5,426.8 L1221.5,424.2 L1216.5,426.8 L1206.5,423.0 L1196.5,424.2 L1187.8,421.8 L1179.0,420.5 L1171.5,423.0 L1161.5,419.2 L1151.5,420.5 L1144.0,424.2 L1134.0,424.2 L1212.0,425.5 L1202.0,423.0 L1192.0,423.0 L1184.5,420.5 L1174.5,421.8 L1167.0,423.0 L1162.0,419.2 L1152.0,425.5 L1142.0,426.8 L1132.0,425.5 L1122.0,428.0 L1114.5,430.5 L1107.0,429.2 L1099.5,431.8 L1092.0,429.2 L1082.0,430.5 L1074.5,429.2 L1064.5,428.0 L1054.5,426.8 L1044.5,425.5 L1034.5,425.5 L1024.5,424.2 L1014.5,425.5 L1007.0,424.2 L999.5,423.0 L989.5,421.8 L979.5,420.5 L969.5,420.5 L959.5,418.0 L949.5,416.8 L939.5,414.2 L929.5,413.0 L919.5,410.5 L912.0,406.8 L907.0,400.5 L902.0,396.8 L896.5,390.5 L891.5,383.0 L886.5,378.0 L884.0,371.8 L876.5,369.2 L869.0,368.5 L861.5,366.8 L856.5,361.8 L854.5,355.5 L857.8,349.2 L862.8,345.5 L870.2,342.5 L876.5,340.5 L881.5,335.5 L889.0,336.8 L896.5,339.2 L902.0,341.8 L909.5,346.8 L919.5,351.8 L927.0,354.2 L937.0,355.5 L944.5,353.0 L952.0,356.8 L960.8,360.5 L964.5,365.5 L972.0,364.2 L979.5,365.5 L987.0,369.2 L994.5,373.0 L1002.0,376.8 L1009.5,375.5 L1017.0,378.0 L1024.5,380.5 L1032.0,383.0 L1042.0,386.8 L1052.0,389.2 L1058.2,378.0 L1072.0,375.5 L1068.2,364.2 L1079.5,363.0 L1093.2,358.0 L1107.0,365.5 L1109.5,373.0 L1129.5,375.5 L1137.0,383.0 L1135.8,390.5 L1128.2,399.2 L1142.0,398.0 L1148.2,395.5 L1157.0,396.8 L1167.0,397.5 L1177.0,398.0 L1187.0,399.2 L1194.5,398.0 L1199.5,393.0 L1202.0,386.8 L1198.2,384.2 L1187.0,383.0 L1179.5,380.5 L1172.0,379.2 L1167.0,378.0 L1173.2,374.2 L1177.0,369.2 L1182.0,365.5 L1187.0,363.0 L1185.8,356.8 L1182.0,351.8 L1179.5,345.5 L1184.5,343.0 L1192.0,344.2 L1199.5,343.0 L1207.0,346.8 L1213.2,344.2 L1215.8,339.2 L1223.2,335.5 L1229.5,333.0 L1237.0,330.5 L1239.5,324.2 L1238.2,318.0 L1245.8,313.0 L1249.5,306.8 L1252.0,303.0 L1248.2,296.0 L1244.5,288.5 L1238.2,281.0 L1229.5,276.0 L1224.5,268.5 L1217.0,266.0 L1209.5,271.0 L1202.0,266.0 L1197.0,258.5 L1192.0,252.2 L1187.0,246.0 L1182.0,239.8 L1174.5,236.0 L1167.0,238.5 L1159.5,236.0 L1152.0,231.0 L1147.0,227.2 L1139.5,222.2 L1132.0,219.8 L1124.5,216.0 L1117.0,212.2 L1109.5,213.5 L1102.0,212.2 L1099.5,207.2 L1098.2,198.5 L1099.5,192.2 L1104.5,188.5 L1099.5,183.5 L1097.0,176.0 L1099.5,168.5 L1095.8,162.2 L1099.5,157.2Z" fill="none" stroke="#00ffff" stroke-width="5.6" stroke-linejoin="round"/>
<path d="M288.5,151.5 L293.5,149.0 L301.0,141.5 L311.0,139.5 L322.2,139.5 L326.0,142.8 L321.0,142.0 L316.0,143.2 L308.5,142.8 L302.2,145.2 L297.2,151.5 L291.0,152.8Z M969.5,151.0 L972.0,150.5 L974.0,154.0 L971.0,155.0Z M297.2,165.5 L302.2,162.2 L304.0,158.5 L306.0,162.2 L312.2,164.8 L318.5,169.8 L321.0,174.8 L328.5,174.8 L336.0,179.8 L338.5,184.8 L344.8,188.5 L338.5,196.0 L332.2,198.0 L328.0,193.5 L327.2,186.0 L319.8,184.8 L318.0,179.8 L313.5,173.5 L308.5,168.5 L302.2,168.0Z M433.0,413.0 L441.0,412.2 L447.2,415.5 L450.5,419.2 L449.8,424.2 L433.5,424.2 L432.2,419.2Z M372.2,462.8 L377.2,455.2 L382.2,450.2 L391.0,447.8 L399.8,447.8 L401.0,454.0 L394.8,459.5 L389.8,463.5 L379.8,464.0 L375.5,466.5Z M702.8,363.5 L716.5,363.0 L717.0,368.5 L712.8,374.2 L707.8,377.5 L704.5,373.0Z M684.0,380.0 L690.2,379.2 L692.8,385.5 L692.0,398.0 L689.0,395.5 L687.8,388.0Z M553.5,450.0 L555.2,440.5 L559.0,434.2 L570.2,434.2 L570.2,436.8 L561.5,437.5 L557.8,443.0 L556.5,450.0 L555.2,445.2 L557.8,447.8 L555.2,454.0 L549.0,457.8 L542.8,459.0 L549.0,452.8 L551.5,446.5Z M824.0,382.5 L827.8,383.0 L834.0,389.2 L830.2,388.0Z M514.0,464.0 L524.0,462.8 L529.0,461.0 L535.2,462.8 L539.0,469.0 L535.2,472.8 L539.5,481.5 L534.0,484.5 L524.0,485.2 L514.0,484.0Z M656.0,466.2 L657.5,464.8 L660.5,464.8 L662.0,466.2 L662.0,469.2 L660.5,470.8 L657.5,470.8 L656.0,469.2Z M1213.2,444.0 L1218.2,444.0 L1224.5,447.0 L1223.2,450.2 L1218.2,447.8Z M1227.0,453.5 L1230.8,455.2 L1235.0,459.0 L1231.5,462.8 L1228.2,460.2Z M1479.0,481.5 L1484.0,484.0 L1488.5,490.2 L1488.5,495.2 L1485.2,495.2 L1482.0,489.0Z M1442.8,291.0 L1444.0,281.0 L1446.5,273.5 L1447.8,276.0 L1446.0,286.0 L1444.0,294.8 L1441.0,293.5Z M498.3,148.7 L506.7,150.0 L511.7,149.7 L514.2,153.3 L511.7,154.2 L505.8,152.0 L499.2,150.3Z M483.3,157.5 L490.0,161.7 L496.7,165.8 L495.0,167.0 L488.3,163.0 L482.5,158.7Z M797.8,249.8 L806.5,247.2 L817.8,243.5 L830.2,241.0 L836.5,238.5 L832.8,243.5 L822.8,246.5 L816.5,252.2 L809.0,254.8 L800.2,253.5Z M806.5,266.0 L811.5,267.2 L811.0,272.2 L807.8,271.5Z M1000.0,423.8 L1006.2,425.0 L1010.0,432.5 L1013.8,440.0 L1020.0,445.0 L1025.0,448.8 L1020.0,451.2 L1012.5,448.8 L1006.2,443.8 L1002.5,437.5 L1003.8,431.2Z M795.0,440.0 L797.5,435.0 L805.0,432.0 L813.8,431.2 L820.0,425.0 L824.5,422.0 L827.0,426.2 L831.2,431.2 L835.0,433.8 L842.5,432.5 L848.8,435.0 L855.0,437.5 L860.0,440.0 L867.5,443.8 L873.8,447.5 L880.0,452.5 L885.0,457.5 L892.5,460.0 L900.0,462.5 L907.5,463.8 L910.0,456.2 L912.5,451.2 L920.0,450.0 L922.5,445.0 L918.8,441.2 L915.0,436.2 L917.5,434.5 L922.5,440.0 L926.2,445.0 L935.0,446.2 L942.5,444.5 L950.0,438.8 L957.5,437.5 L965.0,437.0 L967.5,432.5 L975.0,431.2 L982.5,429.5 L990.0,428.8 L993.8,431.2 L988.8,435.0 L982.5,437.5 L978.8,442.5 L980.0,448.8 L975.0,453.8 L967.5,456.2 L960.0,460.0 L952.5,465.0 L946.2,467.0 L942.5,471.2 L935.0,472.5 L925.0,476.2 L915.0,480.0 L905.0,481.2 L896.2,482.0 L887.5,480.0 L882.5,475.0 L876.2,471.2 L871.2,466.2 L865.0,463.8 L857.5,462.5 L848.8,463.8 L840.0,462.5 L831.2,463.8 L823.8,467.5 L818.8,465.5 L815.0,460.0 L818.8,455.0 L813.8,451.2 L806.2,451.2 L801.2,448.8 L796.2,445.0Z M467.2,187.5 L471.0,182.5 L479.8,181.2 L486.0,181.2 L491.0,176.2 L498.5,175.0 L502.2,171.2 L509.8,172.5 L516.0,172.5 L519.8,175.5 L528.5,175.5 L538.5,177.5 L548.5,180.0 L556.0,176.2 L563.5,177.0 L573.5,175.0 L581.0,176.2 L587.2,180.0 L592.2,177.5 L593.5,181.2 L599.8,185.0 L606.0,181.2 L611.0,185.0 L613.5,191.2 L617.2,197.5 L621.0,200.0 L628.5,202.5 L636.0,205.0 L641.0,208.8 L648.5,213.8 L656.0,218.8 L663.5,222.5 L671.0,223.8 L678.5,226.2 L683.5,232.5 L687.2,238.8 L693.5,241.2 L702.2,243.8 L709.8,248.8 L717.2,253.8 L724.8,258.8 L731.0,260.0 L738.5,267.5 L747.2,272.5 L756.0,275.5 L764.8,280.0 L772.2,285.0 L778.5,291.2 L783.5,296.2 L787.2,303.8 L789.0,303.0 L792.8,309.2 L799.0,313.0 L796.5,315.0 L789.0,313.0 L785.2,318.0 L788.5,328.0 L786.5,340.5 L782.8,348.0 L781.5,356.8 L774.0,364.2 L764.0,365.5 L749.0,364.2 L743.5,359.2 L741.5,351.8 L736.5,345.5 L735.2,333.0 L734.0,320.5 L736.5,309.2 L741.5,304.2 L741.0,300.0 L733.5,292.5 L727.2,287.5 L718.5,288.8 L711.0,291.2 L703.5,290.0 L696.0,291.2 L691.0,287.5 L687.2,280.0 L684.8,272.5 L689.8,265.0 L691.0,260.0 L684.8,256.2 L678.5,250.0 L673.5,248.8 L667.2,251.2 L659.8,256.2 L656.0,261.2 L651.0,266.2 L643.5,272.5 L638.5,277.5 L631.0,280.0 L622.2,279.5 L617.2,276.2 L611.0,270.0 L603.5,265.0 L596.0,258.8 L588.5,252.5 L583.5,250.0 L578.5,253.8 L573.5,258.8 L568.5,263.8 L561.0,266.2 L553.5,267.5 L546.0,268.8 L541.0,275.0 L531.0,275.5 L526.0,270.0 L519.8,268.0 L512.2,266.2 L503.5,262.5 L493.5,261.2 L483.5,258.8 L476.0,257.5 L469.8,254.5 L474.8,251.2 L479.8,246.2 L474.8,242.5 L471.0,237.5 L477.2,231.2 L483.5,226.2 L491.0,221.2 L498.5,218.8 L511.0,217.5 L521.0,215.0 L531.0,213.8 L541.0,212.0 L548.5,208.8 L552.2,205.8 L547.2,203.0 L538.5,201.2 L528.5,200.0 L518.5,198.8 L508.5,197.5 L498.5,197.5 L488.5,200.0 L481.0,197.0 L473.5,195.0 L468.5,192.5Z M1102.0,156.0 L1102.0,149.0 L1104.0,141.5 L1108.2,139.0 L1114.5,145.2 L1122.0,151.5 L1129.5,154.0 L1135.8,156.0 L1142.0,161.0 L1152.0,166.0 L1164.5,168.5 L1167.0,174.8 L1174.5,181.0 L1182.0,187.2 L1189.5,191.0 L1194.5,187.2 L1200.8,193.5 L1207.0,188.5 L1214.5,191.0 L1224.5,193.5 L1232.0,199.8 L1239.5,203.5 L1247.0,199.8 L1252.0,197.2 L1262.0,198.5 L1272.0,199.8 L1274.0,198.5 L1279.0,199.8 L1289.0,203.5 L1301.5,207.2 L1309.0,209.8 L1316.5,217.2 L1324.0,223.5 L1331.5,229.8 L1339.0,236.0 L1346.5,242.2 L1356.5,243.5 L1366.5,244.8 L1372.8,249.8 L1376.5,256.0 L1376.5,268.5 L1374.0,281.0 L1375.2,292.2 L1374.0,303.0 L1377.8,310.5 L1382.8,313.0 L1384.0,316.8 L1380.2,320.5 L1384.0,326.8 L1386.5,333.0 L1394.0,343.0 L1402.8,353.0 L1411.5,361.8 L1421.5,368.0 L1431.5,374.2 L1441.5,380.5 L1451.5,386.8 L1461.5,391.8 L1469.0,396.8 L1472.0,403.0 L1469.0,409.2 L1461.5,413.0 L1456.5,416.8 L1449.0,414.2 L1441.5,413.0 L1434.0,410.5 L1424.0,409.2 L1414.0,409.2 L1404.0,408.0 L1394.0,406.8 L1384.0,408.0 L1374.0,406.8 L1364.0,405.5 L1354.0,408.0 L1344.0,410.5 L1334.0,415.5 L1327.8,421.8 L1321.5,425.5 L1315.2,423.0 L1310.2,419.2 L1304.0,416.8 L1294.0,420.5 L1284.0,423.0 L1274.0,425.5 L1266.5,430.5 L1260.2,434.2 L1254.0,433.0 L1250.2,428.0 L1244.0,425.5 L1234.0,425.5 L1226.5,426.8 L1221.5,424.2 L1216.5,426.8 L1206.5,423.0 L1196.5,424.2 L1187.8,421.8 L1179.0,420.5 L1171.5,423.0 L1161.5,419.2 L1151.5,420.5 L1144.0,424.2 L1134.0,424.2 L1212.0,425.5 L1202.0,423.0 L1192.0,423.0 L1184.5,420.5 L1174.5,421.8 L1167.0,423.0 L1162.0,419.2 L1152.0,425.5 L1142.0,426.8 L1132.0,425.5 L1122.0,428.0 L1114.5,430.5 L1107.0,429.2 L1099.5,431.8 L1092.0,429.2 L1082.0,430.5 L1074.5,429.2 L1064.5,428.0 L1054.5,426.8 L1044.5,425.5 L1034.5,425.5 L1024.5,424.2 L1014.5,425.5 L1007.0,424.2 L999.5,423.0 L989.5,421.8 L979.5,420.5 L969.5,420.5 L959.5,418.0 L949.5,416.8 L939.5,414.2 L929.5,413.0 L919.5,410.5 L912.0,406.8 L907.0,400.5 L902.0,396.8 L896.5,390.5 L891.5,383.0 L886.5,378.0 L884.0,371.8 L876.5,369.2 L869.0,368.5 L861.5,366.8 L856.5,361.8 L854.5,355.5 L857.8,349.2 L862.8,345.5 L870.2,342.5 L876.5,340.5 L881.5,335.5 L889.0,336.8 L896.5,339.2 L902.0,341.8 L909.5,346.8 L919.5,351.8 L927.0,354.2 L937.0,355.5 L944.5,353.0 L952.0,356.8 L960.8,360.5 L964.5,365.5 L972.0,364.2 L979.5,365.5 L987.0,369.2 L994.5,373.0 L1002.0,376.8 L1009.5,375.5 L1017.0,378.0 L1024.5,380.5 L1032.0,383.0 L1042.0,386.8 L1052.0,389.2 L1058.2,378.0 L1072.0,375.5 L1068.2,364.2 L1079.5,363.0 L1093.2,358.0 L1107.0,365.5 L1109.5,373.0 L1129.5,375.5 L1137.0,383.0 L1135.8,390.5 L1128.2,399.2 L1142.0,398.0 L1148.2,395.5 L1157.0,396.8 L1167.0,397.5 L1177.0,398.0 L1187.0,399.2 L1194.5,398.0 L1199.5,393.0 L1202.0,386.8 L1198.2,384.2 L1187.0,383.0 L1179.5,380.5 L1172.0,379.2 L1167.0,378.0 L1173.2,374.2 L1177.0,369.2 L1182.0,365.5 L1187.0,363.0 L1185.8,356.8 L1182.0,351.8 L1179.5,345.5 L1184.5,343.0 L1192.0,344.2 L1199.5,343.0 L1207.0,346.8 L1213.2,344.2 L1215.8,339.2 L1223.2,335.5 L1229.5,333.0 L1237.0,330.5 L1239.5,324.2 L1238.2,318.0 L1245.8,313.0 L1249.5,306.8 L1252.0,303.0 L1248.2,296.0 L1244.5,288.5 L1238.2,281.0 L1229.5,276.0 L1224.5,268.5 L1217.0,266.0 L1209.5,271.0 L1202.0,266.0 L1197.0,258.5 L1192.0,252.2 L1187.0,246.0 L1182.0,239.8 L1174.5,236.0 L1167.0,238.5 L1159.5,236.0 L1152.0,231.0 L1147.0,227.2 L1139.5,222.2 L1132.0,219.8 L1124.5,216.0 L1117.0,212.2 L1109.5,213.5 L1102.0,212.2 L1099.5,207.2 L1098.2,198.5 L1099.5,192.2 L1104.5,188.5 L1099.5,183.5 L1097.0,176.0 L1099.5,168.5 L1095.8,162.2 L1099.5,157.2Z" fill="none" stroke="#18e018" stroke-width="3.0" stroke-linejoin="round"/>
<path d="M288.5,151.5 L293.5,149.0 L301.0,141.5 L311.0,139.5 L322.2,139.5 L326.0,142.8 L321.0,142.0 L316.0,143.2 L308.5,142.8 L302.2,145.2 L297.2,151.5 L291.0,152.8Z M969.5,151.0 L972.0,150.5 L974.0,154.0 L971.0,155.0Z M297.2,165.5 L302.2,162.2 L304.0,158.5 L306.0,162.2 L312.2,164.8 L318.5,169.8 L321.0,174.8 L328.5,174.8 L336.0,179.8 L338.5,184.8 L344.8,188.5 L338.5,196.0 L332.2,198.0 L328.0,193.5 L327.2,186.0 L319.8,184.8 L318.0,179.8 L313.5,173.5 L308.5,168.5 L302.2,168.0Z M433.0,413.0 L441.0,412.2 L447.2,415.5 L450.5,419.2 L449.8,424.2 L433.5,424.2 L432.2,419.2Z M372.2,462.8 L377.2,455.2 L382.2,450.2 L391.0,447.8 L399.8,447.8 L401.0,454.0 L394.8,459.5 L389.8,463.5 L379.8,464.0 L375.5,466.5Z M702.8,363.5 L716.5,363.0 L717.0,368.5 L712.8,374.2 L707.8,377.5 L704.5,373.0Z M684.0,380.0 L690.2,379.2 L692.8,385.5 L692.0,398.0 L689.0,395.5 L687.8,388.0Z M553.5,450.0 L555.2,440.5 L559.0,434.2 L570.2,434.2 L570.2,436.8 L561.5,437.5 L557.8,443.0 L556.5,450.0 L555.2,445.2 L557.8,447.8 L555.2,454.0 L549.0,457.8 L542.8,459.0 L549.0,452.8 L551.5,446.5Z M824.0,382.5 L827.8,383.0 L834.0,389.2 L830.2,388.0Z M514.0,464.0 L524.0,462.8 L529.0,461.0 L535.2,462.8 L539.0,469.0 L535.2,472.8 L539.5,481.5 L534.0,484.5 L524.0,485.2 L514.0,484.0Z M656.0,466.2 L657.5,464.8 L660.5,464.8 L662.0,466.2 L662.0,469.2 L660.5,470.8 L657.5,470.8 L656.0,469.2Z M1213.2,444.0 L1218.2,444.0 L1224.5,447.0 L1223.2,450.2 L1218.2,447.8Z M1227.0,453.5 L1230.8,455.2 L1235.0,459.0 L1231.5,462.8 L1228.2,460.2Z M1479.0,481.5 L1484.0,484.0 L1488.5,490.2 L1488.5,495.2 L1485.2,495.2 L1482.0,489.0Z M1442.8,291.0 L1444.0,281.0 L1446.5,273.5 L1447.8,276.0 L1446.0,286.0 L1444.0,294.8 L1441.0,293.5Z M498.3,148.7 L506.7,150.0 L511.7,149.7 L514.2,153.3 L511.7,154.2 L505.8,152.0 L499.2,150.3Z M483.3,157.5 L490.0,161.7 L496.7,165.8 L495.0,167.0 L488.3,163.0 L482.5,158.7Z M797.8,249.8 L806.5,247.2 L817.8,243.5 L830.2,241.0 L836.5,238.5 L832.8,243.5 L822.8,246.5 L816.5,252.2 L809.0,254.8 L800.2,253.5Z M806.5,266.0 L811.5,267.2 L811.0,272.2 L807.8,271.5Z M1000.0,423.8 L1006.2,425.0 L1010.0,432.5 L1013.8,440.0 L1020.0,445.0 L1025.0,448.8 L1020.0,451.2 L1012.5,448.8 L1006.2,443.8 L1002.5,437.5 L1003.8,431.2Z M795.0,440.0 L797.5,435.0 L805.0,432.0 L813.8,431.2 L820.0,425.0 L824.5,422.0 L827.0,426.2 L831.2,431.2 L835.0,433.8 L842.5,432.5 L848.8,435.0 L855.0,437.5 L860.0,440.0 L867.5,443.8 L873.8,447.5 L880.0,452.5 L885.0,457.5 L892.5,460.0 L900.0,462.5 L907.5,463.8 L910.0,456.2 L912.5,451.2 L920.0,450.0 L922.5,445.0 L918.8,441.2 L915.0,436.2 L917.5,434.5 L922.5,440.0 L926.2,445.0 L935.0,446.2 L942.5,444.5 L950.0,438.8 L957.5,437.5 L965.0,437.0 L967.5,432.5 L975.0,431.2 L982.5,429.5 L990.0,428.8 L993.8,431.2 L988.8,435.0 L982.5,437.5 L978.8,442.5 L980.0,448.8 L975.0,453.8 L967.5,456.2 L960.0,460.0 L952.5,465.0 L946.2,467.0 L942.5,471.2 L935.0,472.5 L925.0,476.2 L915.0,480.0 L905.0,481.2 L896.2,482.0 L887.5,480.0 L882.5,475.0 L876.2,471.2 L871.2,466.2 L865.0,463.8 L857.5,462.5 L848.8,463.8 L840.0,462.5 L831.2,463.8 L823.8,467.5 L818.8,465.5 L815.0,460.0 L818.8,455.0 L813.8,451.2 L806.2,451.2 L801.2,448.8 L796.2,445.0Z M467.2,187.5 L471.0,182.5 L479.8,181.2 L486.0,181.2 L491.0,176.2 L498.5,175.0 L502.2,171.2 L509.8,172.5 L516.0,172.5 L519.8,175.5 L528.5,175.5 L538.5,177.5 L548.5,180.0 L556.0,176.2 L563.5,177.0 L573.5,175.0 L581.0,176.2 L587.2,180.0 L592.2,177.5 L593.5,181.2 L599.8,185.0 L606.0,181.2 L611.0,185.0 L613.5,191.2 L617.2,197.5 L621.0,200.0 L628.5,202.5 L636.0,205.0 L641.0,208.8 L648.5,213.8 L656.0,218.8 L663.5,222.5 L671.0,223.8 L678.5,226.2 L683.5,232.5 L687.2,238.8 L693.5,241.2 L702.2,243.8 L709.8,248.8 L717.2,253.8 L724.8,258.8 L731.0,260.0 L738.5,267.5 L747.2,272.5 L756.0,275.5 L764.8,280.0 L772.2,285.0 L778.5,291.2 L783.5,296.2 L787.2,303.8 L789.0,303.0 L792.8,309.2 L799.0,313.0 L796.5,315.0 L789.0,313.0 L785.2,318.0 L788.5,328.0 L786.5,340.5 L782.8,348.0 L781.5,356.8 L774.0,364.2 L764.0,365.5 L749.0,364.2 L743.5,359.2 L741.5,351.8 L736.5,345.5 L735.2,333.0 L734.0,320.5 L736.5,309.2 L741.5,304.2 L741.0,300.0 L733.5,292.5 L727.2,287.5 L718.5,288.8 L711.0,291.2 L703.5,290.0 L696.0,291.2 L691.0,287.5 L687.2,280.0 L684.8,272.5 L689.8,265.0 L691.0,260.0 L684.8,256.2 L678.5,250.0 L673.5,248.8 L667.2,251.2 L659.8,256.2 L656.0,261.2 L651.0,266.2 L643.5,272.5 L638.5,277.5 L631.0,280.0 L622.2,279.5 L617.2,276.2 L611.0,270.0 L603.5,265.0 L596.0,258.8 L588.5,252.5 L583.5,250.0 L578.5,253.8 L573.5,258.8 L568.5,263.8 L561.0,266.2 L553.5,267.5 L546.0,268.8 L541.0,275.0 L531.0,275.5 L526.0,270.0 L519.8,268.0 L512.2,266.2 L503.5,262.5 L493.5,261.2 L483.5,258.8 L476.0,257.5 L469.8,254.5 L474.8,251.2 L479.8,246.2 L474.8,242.5 L471.0,237.5 L477.2,231.2 L483.5,226.2 L491.0,221.2 L498.5,218.8 L511.0,217.5 L521.0,215.0 L531.0,213.8 L541.0,212.0 L548.5,208.8 L552.2,205.8 L547.2,203.0 L538.5,201.2 L528.5,200.0 L518.5,198.8 L508.5,197.5 L498.5,197.5 L488.5,200.0 L481.0,197.0 L473.5,195.0 L468.5,192.5Z M1102.0,156.0 L1102.0,149.0 L1104.0,141.5 L1108.2,139.0 L1114.5,145.2 L1122.0,151.5 L1129.5,154.0 L1135.8,156.0 L1142.0,161.0 L1152.0,166.0 L1164.5,168.5 L1167.0,174.8 L1174.5,181.0 L1182.0,187.2 L1189.5,191.0 L1194.5,187.2 L1200.8,193.5 L1207.0,188.5 L1214.5,191.0 L1224.5,193.5 L1232.0,199.8 L1239.5,203.5 L1247.0,199.8 L1252.0,197.2 L1262.0,198.5 L1272.0,199.8 L1274.0,198.5 L1279.0,199.8 L1289.0,203.5 L1301.5,207.2 L1309.0,209.8 L1316.5,217.2 L1324.0,223.5 L1331.5,229.8 L1339.0,236.0 L1346.5,242.2 L1356.5,243.5 L1366.5,244.8 L1372.8,249.8 L1376.5,256.0 L1376.5,268.5 L1374.0,281.0 L1375.2,292.2 L1374.0,303.0 L1377.8,310.5 L1382.8,313.0 L1384.0,316.8 L1380.2,320.5 L1384.0,326.8 L1386.5,333.0 L1394.0,343.0 L1402.8,353.0 L1411.5,361.8 L1421.5,368.0 L1431.5,374.2 L1441.5,380.5 L1451.5,386.8 L1461.5,391.8 L1469.0,396.8 L1472.0,403.0 L1469.0,409.2 L1461.5,413.0 L1456.5,416.8 L1449.0,414.2 L1441.5,413.0 L1434.0,410.5 L1424.0,409.2 L1414.0,409.2 L1404.0,408.0 L1394.0,406.8 L1384.0,408.0 L1374.0,406.8 L1364.0,405.5 L1354.0,408.0 L1344.0,410.5 L1334.0,415.5 L1327.8,421.8 L1321.5,425.5 L1315.2,423.0 L1310.2,419.2 L1304.0,416.8 L1294.0,420.5 L1284.0,423.0 L1274.0,425.5 L1266.5,430.5 L1260.2,434.2 L1254.0,433.0 L1250.2,428.0 L1244.0,425.5 L1234.0,425.5 L1226.5,426.8 L1221.5,424.2 L1216.5,426.8 L1206.5,423.0 L1196.5,424.2 L1187.8,421.8 L1179.0,420.5 L1171.5,423.0 L1161.5,419.2 L1151.5,420.5 L1144.0,424.2 L1134.0,424.2 L1212.0,425.5 L1202.0,423.0 L1192.0,423.0 L1184.5,420.5 L1174.5,421.8 L1167.0,423.0 L1162.0,419.2 L1152.0,425.5 L1142.0,426.8 L1132.0,425.5 L1122.0,428.0 L1114.5,430.5 L1107.0,429.2 L1099.5,431.8 L1092.0,429.2 L1082.0,430.5 L1074.5,429.2 L1064.5,428.0 L1054.5,426.8 L1044.5,425.5 L1034.5,425.5 L1024.5,424.2 L1014.5,425.5 L1007.0,424.2 L999.5,423.0 L989.5,421.8 L979.5,420.5 L969.5,420.5 L959.5,418.0 L949.5,416.8 L939.5,414.2 L929.5,413.0 L919.5,410.5 L912.0,406.8 L907.0,400.5 L902.0,396.8 L896.5,390.5 L891.5,383.0 L886.5,378.0 L884.0,371.8 L876.5,369.2 L869.0,368.5 L861.5,366.8 L856.5,361.8 L854.5,355.5 L857.8,349.2 L862.8,345.5 L870.2,342.5 L876.5,340.5 L881.5,335.5 L889.0,336.8 L896.5,339.2 L902.0,341.8 L909.5,346.8 L919.5,351.8 L927.0,354.2 L937.0,355.5 L944.5,353.0 L952.0,356.8 L960.8,360.5 L964.5,365.5 L972.0,364.2 L979.5,365.5 L987.0,369.2 L994.5,373.0 L1002.0,376.8 L1009.5,375.5 L1017.0,378.0 L1024.5,380.5 L1032.0,383.0 L1042.0,386.8 L1052.0,389.2 L1058.2,378.0 L1072.0,375.5 L1068.2,364.2 L1079.5,363.0 L1093.2,358.0 L1107.0,365.5 L1109.5,373.0 L1129.5,375.5 L1137.0,383.0 L1135.8,390.5 L1128.2,399.2 L1142.0,398.0 L1148.2,395.5 L1157.0,396.8 L1167.0,397.5 L1177.0,398.0 L1187.0,399.2 L1194.5,398.0 L1199.5,393.0 L1202.0,386.8 L1198.2,384.2 L1187.0,383.0 L1179.5,380.5 L1172.0,379.2 L1167.0,378.0 L1173.2,374.2 L1177.0,369.2 L1182.0,365.5 L1187.0,363.0 L1185.8,356.8 L1182.0,351.8 L1179.5,345.5 L1184.5,343.0 L1192.0,344.2 L1199.5,343.0 L1207.0,346.8 L1213.2,344.2 L1215.8,339.2 L1223.2,335.5 L1229.5,333.0 L1237.0,330.5 L1239.5,324.2 L1238.2,318.0 L1245.8,313.0 L1249.5,306.8 L1252.0,303.0 L1248.2,296.0 L1244.5,288.5 L1238.2,281.0 L1229.5,276.0 L1224.5,268.5 L1217.0,266.0 L1209.5,271.0 L1202.0,266.0 L1197.0,258.5 L1192.0,252.2 L1187.0,246.0 L1182.0,239.8 L1174.5,236.0 L1167.0,238.5 L1159.5,236.0 L1152.0,231.0 L1147.0,227.2 L1139.5,222.2 L1132.0,219.8 L1124.5,216.0 L1117.0,212.2 L1109.5,213.5 L1102.0,212.2 L1099.5,207.2 L1098.2,198.5 L1099.5,192.2 L1104.5,188.5 L1099.5,183.5 L1097.0,176.0 L1099.5,168.5 L1095.8,162.2 L1099.5,157.2Z" fill="#ffd700"/>
<clipPath id="yc"><path d="M288.5,151.5 L293.5,149.0 L301.0,141.5 L311.0,139.5 L322.2,139.5 L326.0,142.8 L321.0,142.0 L316.0,143.2 L308.5,142.8 L302.2,145.2 L297.2,151.5 L291.0,152.8Z M969.5,151.0 L972.0,150.5 L974.0,154.0 L971.0,155.0Z M297.2,165.5 L302.2,162.2 L304.0,158.5 L306.0,162.2 L312.2,164.8 L318.5,169.8 L321.0,174.8 L328.5,174.8 L336.0,179.8 L338.5,184.8 L344.8,188.5 L338.5,196.0 L332.2,198.0 L328.0,193.5 L327.2,186.0 L319.8,184.8 L318.0,179.8 L313.5,173.5 L308.5,168.5 L302.2,168.0Z M433.0,413.0 L441.0,412.2 L447.2,415.5 L450.5,419.2 L449.8,424.2 L433.5,424.2 L432.2,419.2Z M372.2,462.8 L377.2,455.2 L382.2,450.2 L391.0,447.8 L399.8,447.8 L401.0,454.0 L394.8,459.5 L389.8,463.5 L379.8,464.0 L375.5,466.5Z M702.8,363.5 L716.5,363.0 L717.0,368.5 L712.8,374.2 L707.8,377.5 L704.5,373.0Z M684.0,380.0 L690.2,379.2 L692.8,385.5 L692.0,398.0 L689.0,395.5 L687.8,388.0Z M553.5,450.0 L555.2,440.5 L559.0,434.2 L570.2,434.2 L570.2,436.8 L561.5,437.5 L557.8,443.0 L556.5,450.0 L555.2,445.2 L557.8,447.8 L555.2,454.0 L549.0,457.8 L542.8,459.0 L549.0,452.8 L551.5,446.5Z M824.0,382.5 L827.8,383.0 L834.0,389.2 L830.2,388.0Z M514.0,464.0 L524.0,462.8 L529.0,461.0 L535.2,462.8 L539.0,469.0 L535.2,472.8 L539.5,481.5 L534.0,484.5 L524.0,485.2 L514.0,484.0Z M656.0,466.2 L657.5,464.8 L660.5,464.8 L662.0,466.2 L662.0,469.2 L660.5,470.8 L657.5,470.8 L656.0,469.2Z M1213.2,444.0 L1218.2,444.0 L1224.5,447.0 L1223.2,450.2 L1218.2,447.8Z M1227.0,453.5 L1230.8,455.2 L1235.0,459.0 L1231.5,462.8 L1228.2,460.2Z M1479.0,481.5 L1484.0,484.0 L1488.5,490.2 L1488.5,495.2 L1485.2,495.2 L1482.0,489.0Z M1442.8,291.0 L1444.0,281.0 L1446.5,273.5 L1447.8,276.0 L1446.0,286.0 L1444.0,294.8 L1441.0,293.5Z M498.3,148.7 L506.7,150.0 L511.7,149.7 L514.2,153.3 L511.7,154.2 L505.8,152.0 L499.2,150.3Z M483.3,157.5 L490.0,161.7 L496.7,165.8 L495.0,167.0 L488.3,163.0 L482.5,158.7Z M797.8,249.8 L806.5,247.2 L817.8,243.5 L830.2,241.0 L836.5,238.5 L832.8,243.5 L822.8,246.5 L816.5,252.2 L809.0,254.8 L800.2,253.5Z M806.5,266.0 L811.5,267.2 L811.0,272.2 L807.8,271.5Z M1000.0,423.8 L1006.2,425.0 L1010.0,432.5 L1013.8,440.0 L1020.0,445.0 L1025.0,448.8 L1020.0,451.2 L1012.5,448.8 L1006.2,443.8 L1002.5,437.5 L1003.8,431.2Z M795.0,440.0 L797.5,435.0 L805.0,432.0 L813.8,431.2 L820.0,425.0 L824.5,422.0 L827.0,426.2 L831.2,431.2 L835.0,433.8 L842.5,432.5 L848.8,435.0 L855.0,437.5 L860.0,440.0 L867.5,443.8 L873.8,447.5 L880.0,452.5 L885.0,457.5 L892.5,460.0 L900.0,462.5 L907.5,463.8 L910.0,456.2 L912.5,451.2 L920.0,450.0 L922.5,445.0 L918.8,441.2 L915.0,436.2 L917.5,434.5 L922.5,440.0 L926.2,445.0 L935.0,446.2 L942.5,444.5 L950.0,438.8 L957.5,437.5 L965.0,437.0 L967.5,432.5 L975.0,431.2 L982.5,429.5 L990.0,428.8 L993.8,431.2 L988.8,435.0 L982.5,437.5 L978.8,442.5 L980.0,448.8 L975.0,453.8 L967.5,456.2 L960.0,460.0 L952.5,465.0 L946.2,467.0 L942.5,471.2 L935.0,472.5 L925.0,476.2 L915.0,480.0 L905.0,481.2 L896.2,482.0 L887.5,480.0 L882.5,475.0 L876.2,471.2 L871.2,466.2 L865.0,463.8 L857.5,462.5 L848.8,463.8 L840.0,462.5 L831.2,463.8 L823.8,467.5 L818.8,465.5 L815.0,460.0 L818.8,455.0 L813.8,451.2 L806.2,451.2 L801.2,448.8 L796.2,445.0Z M467.2,187.5 L471.0,182.5 L479.8,181.2 L486.0,181.2 L491.0,176.2 L498.5,175.0 L502.2,171.2 L509.8,172.5 L516.0,172.5 L519.8,175.5 L528.5,175.5 L538.5,177.5 L548.5,180.0 L556.0,176.2 L563.5,177.0 L573.5,175.0 L581.0,176.2 L587.2,180.0 L592.2,177.5 L593.5,181.2 L599.8,185.0 L606.0,181.2 L611.0,185.0 L613.5,191.2 L617.2,197.5 L621.0,200.0 L628.5,202.5 L636.0,205.0 L641.0,208.8 L648.5,213.8 L656.0,218.8 L663.5,222.5 L671.0,223.8 L678.5,226.2 L683.5,232.5 L687.2,238.8 L693.5,241.2 L702.2,243.8 L709.8,248.8 L717.2,253.8 L724.8,258.8 L731.0,260.0 L738.5,267.5 L747.2,272.5 L756.0,275.5 L764.8,280.0 L772.2,285.0 L778.5,291.2 L783.5,296.2 L787.2,303.8 L789.0,303.0 L792.8,309.2 L799.0,313.0 L796.5,315.0 L789.0,313.0 L785.2,318.0 L788.5,328.0 L786.5,340.5 L782.8,348.0 L781.5,356.8 L774.0,364.2 L764.0,365.5 L749.0,364.2 L743.5,359.2 L741.5,351.8 L736.5,345.5 L735.2,333.0 L734.0,320.5 L736.5,309.2 L741.5,304.2 L741.0,300.0 L733.5,292.5 L727.2,287.5 L718.5,288.8 L711.0,291.2 L703.5,290.0 L696.0,291.2 L691.0,287.5 L687.2,280.0 L684.8,272.5 L689.8,265.0 L691.0,260.0 L684.8,256.2 L678.5,250.0 L673.5,248.8 L667.2,251.2 L659.8,256.2 L656.0,261.2 L651.0,266.2 L643.5,272.5 L638.5,277.5 L631.0,280.0 L622.2,279.5 L617.2,276.2 L611.0,270.0 L603.5,265.0 L596.0,258.8 L588.5,252.5 L583.5,250.0 L578.5,253.8 L573.5,258.8 L568.5,263.8 L561.0,266.2 L553.5,267.5 L546.0,268.8 L541.0,275.0 L531.0,275.5 L526.0,270.0 L519.8,268.0 L512.2,266.2 L503.5,262.5 L493.5,261.2 L483.5,258.8 L476.0,257.5 L469.8,254.5 L474.8,251.2 L479.8,246.2 L474.8,242.5 L471.0,237.5 L477.2,231.2 L483.5,226.2 L491.0,221.2 L498.5,218.8 L511.0,217.5 L521.0,215.0 L531.0,213.8 L541.0,212.0 L548.5,208.8 L552.2,205.8 L547.2,203.0 L538.5,201.2 L528.5,200.0 L518.5,198.8 L508.5,197.5 L498.5,197.5 L488.5,200.0 L481.0,197.0 L473.5,195.0 L468.5,192.5Z M1102.0,156.0 L1102.0,149.0 L1104.0,141.5 L1108.2,139.0 L1114.5,145.2 L1122.0,151.5 L1129.5,154.0 L1135.8,156.0 L1142.0,161.0 L1152.0,166.0 L1164.5,168.5 L1167.0,174.8 L1174.5,181.0 L1182.0,187.2 L1189.5,191.0 L1194.5,187.2 L1200.8,193.5 L1207.0,188.5 L1214.5,191.0 L1224.5,193.5 L1232.0,199.8 L1239.5,203.5 L1247.0,199.8 L1252.0,197.2 L1262.0,198.5 L1272.0,199.8 L1274.0,198.5 L1279.0,199.8 L1289.0,203.5 L1301.5,207.2 L1309.0,209.8 L1316.5,217.2 L1324.0,223.5 L1331.5,229.8 L1339.0,236.0 L1346.5,242.2 L1356.5,243.5 L1366.5,244.8 L1372.8,249.8 L1376.5,256.0 L1376.5,268.5 L1374.0,281.0 L1375.2,292.2 L1374.0,303.0 L1377.8,310.5 L1382.8,313.0 L1384.0,316.8 L1380.2,320.5 L1384.0,326.8 L1386.5,333.0 L1394.0,343.0 L1402.8,353.0 L1411.5,361.8 L1421.5,368.0 L1431.5,374.2 L1441.5,380.5 L1451.5,386.8 L1461.5,391.8 L1469.0,396.8 L1472.0,403.0 L1469.0,409.2 L1461.5,413.0 L1456.5,416.8 L1449.0,414.2 L1441.5,413.0 L1434.0,410.5 L1424.0,409.2 L1414.0,409.2 L1404.0,408.0 L1394.0,406.8 L1384.0,408.0 L1374.0,406.8 L1364.0,405.5 L1354.0,408.0 L1344.0,410.5 L1334.0,415.5 L1327.8,421.8 L1321.5,425.5 L1315.2,423.0 L1310.2,419.2 L1304.0,416.8 L1294.0,420.5 L1284.0,423.0 L1274.0,425.5 L1266.5,430.5 L1260.2,434.2 L1254.0,433.0 L1250.2,428.0 L1244.0,425.5 L1234.0,425.5 L1226.5,426.8 L1221.5,424.2 L1216.5,426.8 L1206.5,423.0 L1196.5,424.2 L1187.8,421.8 L1179.0,420.5 L1171.5,423.0 L1161.5,419.2 L1151.5,420.5 L1144.0,424.2 L1134.0,424.2 L1212.0,425.5 L1202.0,423.0 L1192.0,423.0 L1184.5,420.5 L1174.5,421.8 L1167.0,423.0 L1162.0,419.2 L1152.0,425.5 L1142.0,426.8 L1132.0,425.5 L1122.0,428.0 L1114.5,430.5 L1107.0,429.2 L1099.5,431.8 L1092.0,429.2 L1082.0,430.5 L1074.5,429.2 L1064.5,428.0 L1054.5,426.8 L1044.5,425.5 L1034.5,425.5 L1024.5,424.2 L1014.5,425.5 L1007.0,424.2 L999.5,423.0 L989.5,421.8 L979.5,420.5 L969.5,420.5 L959.5,418.0 L949.5,416.8 L939.5,414.2 L929.5,413.0 L919.5,410.5 L912.0,406.8 L907.0,400.5 L902.0,396.8 L896.5,390.5 L891.5,383.0 L886.5,378.0 L884.0,371.8 L876.5,369.2 L869.0,368.5 L861.5,366.8 L856.5,361.8 L854.5,355.5 L857.8,349.2 L862.8,345.5 L870.2,342.5 L876.5,340.5 L881.5,335.5 L889.0,336.8 L896.5,339.2 L902.0,341.8 L909.5,346.8 L919.5,351.8 L927.0,354.2 L937.0,355.5 L944.5,353.0 L952.0,356.8 L960.8,360.5 L964.5,365.5 L972.0,364.2 L979.5,365.5 L987.0,369.2 L994.5,373.0 L1002.0,376.8 L1009.5,375.5 L1017.0,378.0 L1024.5,380.5 L1032.0,383.0 L1042.0,386.8 L1052.0,389.2 L1058.2,378.0 L1072.0,375.5 L1068.2,364.2 L1079.5,363.0 L1093.2,358.0 L1107.0,365.5 L1109.5,373.0 L1129.5,375.5 L1137.0,383.0 L1135.8,390.5 L1128.2,399.2 L1142.0,398.0 L1148.2,395.5 L1157.0,396.8 L1167.0,397.5 L1177.0,398.0 L1187.0,399.2 L1194.5,398.0 L1199.5,393.0 L1202.0,386.8 L1198.2,384.2 L1187.0,383.0 L1179.5,380.5 L1172.0,379.2 L1167.0,378.0 L1173.2,374.2 L1177.0,369.2 L1182.0,365.5 L1187.0,363.0 L1185.8,356.8 L1182.0,351.8 L1179.5,345.5 L1184.5,343.0 L1192.0,344.2 L1199.5,343.0 L1207.0,346.8 L1213.2,344.2 L1215.8,339.2 L1223.2,335.5 L1229.5,333.0 L1237.0,330.5 L1239.5,324.2 L1238.2,318.0 L1245.8,313.0 L1249.5,306.8 L1252.0,303.0 L1248.2,296.0 L1244.5,288.5 L1238.2,281.0 L1229.5,276.0 L1224.5,268.5 L1217.0,266.0 L1209.5,271.0 L1202.0,266.0 L1197.0,258.5 L1192.0,252.2 L1187.0,246.0 L1182.0,239.8 L1174.5,236.0 L1167.0,238.5 L1159.5,236.0 L1152.0,231.0 L1147.0,227.2 L1139.5,222.2 L1132.0,219.8 L1124.5,216.0 L1117.0,212.2 L1109.5,213.5 L1102.0,212.2 L1099.5,207.2 L1098.2,198.5 L1099.5,192.2 L1104.5,188.5 L1099.5,183.5 L1097.0,176.0 L1099.5,168.5 L1095.8,162.2 L1099.5,157.2Z"/></clipPath><g clip-path="url(#yc)">
<path d="M329.8,187.2 L334.8,183.5 L341.0,189.8 L337.2,196.0 L332.2,196.5 L329.8,192.2Z M322.2,179.8 L326.0,179.8 L326.0,183.5 L322.2,183.5Z M434.8,414.2 L439.8,414.2 L441.0,418.0 L435.5,418.5Z M377.2,461.5 L379.8,455.2 L384.8,451.5 L396.0,451.0 L398.5,454.0 L392.2,459.5 L387.2,462.0 L379.8,462.8Z M527.8,469.0 L531.5,464.0 L534.0,469.0 L530.2,474.0 L530.2,481.5 L527.0,481.5Z M551.5,450.2 L555.2,446.5 L556.5,448.5 L552.8,452.0Z M551.0,450.0 L553.5,446.8 L556.5,450.0Z M657.8,467.8 L659.0,466.5 L660.2,467.8 L659.0,469.0Z M1114.5,152.8 L1124.5,152.8 L1128.2,156.0 L1114.5,156.0Z M1108.5,144.0 L1109.5,143.0 L1110.5,144.0 L1109.5,145.0Z M1109.8,149.0 L1110.8,148.0 L1111.8,149.0 L1110.8,150.0Z M825.2,383.0 L827.8,383.5 L832.8,388.8 L830.2,387.5Z M1443.5,282.2 L1444.5,281.2 L1445.5,282.2 L1444.5,283.2Z M1477.2,464.5 L1478.5,463.2 L1479.8,464.5 L1478.5,465.8Z M803.8,441.2 L810.0,435.0 L816.2,433.8 L821.2,428.8 L825.5,427.5 L827.5,433.8 L835.0,437.5 L842.5,440.0 L850.0,441.2 L858.8,445.0 L865.0,448.8 L871.2,453.8 L877.5,458.8 L885.0,462.5 L892.5,465.5 L900.0,467.0 L906.2,465.5 L915.0,463.8 L922.5,462.0 L932.5,458.8 L940.0,456.2 L947.5,453.8 L955.0,450.0 L960.0,446.2 L965.0,444.5 L967.5,440.0 L968.8,435.0 L975.0,433.8 L982.5,432.5 L988.8,431.2 L985.0,434.5 L980.0,437.5 L977.5,442.5 L978.8,448.8 L972.5,452.5 L965.0,455.0 L957.5,460.0 L950.0,463.8 L943.8,467.5 L940.0,470.0 L932.5,471.2 L922.5,475.0 L912.5,478.8 L902.5,480.0 L896.2,480.5 L888.8,477.5 L883.8,473.8 L877.5,470.0 L872.5,465.0 L866.2,461.2 L860.0,458.8 L855.0,453.8 L847.5,451.2 L840.0,448.8 L831.2,447.5 L822.5,448.8 L815.0,447.5 L808.8,446.2Z M786.5,303.0 L784.0,310.5 L776.5,315.0 L770.2,320.5 L761.5,319.2 L749.0,318.0 L744.0,313.0 L749.0,303.0Z M776.5,315.5 L784.0,319.2 L787.8,328.0 L786.0,340.5 L781.5,348.0 L779.0,356.8 L775.2,350.5 L767.8,351.8 L761.5,344.2 L755.2,340.5 L752.8,335.5 L761.5,329.2 L770.2,321.8Z M488.5,183.8 L498.5,180.0 L508.5,178.8 L516.0,177.0 L526.0,181.2 L536.0,182.0 L543.5,185.0 L552.2,181.2 L556.0,178.8 L563.5,180.0 L573.5,178.8 L583.5,181.2 L588.5,185.0 L592.2,190.0 L598.5,193.8 L602.2,197.5 L599.8,203.8 L606.0,206.2 L611.0,205.0 L616.0,202.5 L619.8,206.2 L616.0,208.8 L606.0,208.8 L596.0,210.0 L588.5,211.2 L582.2,213.8 L579.8,208.8 L574.8,205.0 L573.5,201.2 L568.5,201.2 L567.2,206.2 L572.2,207.5 L578.5,213.8 L579.8,220.0 L574.8,221.2 L572.2,226.2 L576.0,228.8 L582.2,232.5 L586.0,240.0 L589.8,246.2 L594.8,252.5 L601.0,257.5 L608.5,260.0 L616.0,256.2 L619.8,260.0 L616.0,266.2 L608.5,268.8 L601.0,262.5 L593.5,256.2 L586.0,248.8 L582.2,245.0 L576.0,248.8 L571.0,253.8 L566.0,258.8 L562.2,256.2 L561.0,248.8 L554.8,247.5 L549.8,251.2 L542.2,250.0 L533.5,251.2 L524.8,250.0 L516.0,251.2 L509.8,256.2 L503.5,257.5 L502.2,251.2 L493.5,248.8 L486.0,251.2 L479.8,252.5 L474.8,253.8 L481.0,246.2 L476.0,241.2 L472.2,237.5 L478.5,232.5 L486.0,227.5 L493.5,225.0 L498.5,227.5 L502.2,223.8 L509.8,221.2 L518.5,218.8 L528.5,216.2 L541.0,213.8 L551.0,210.0 L556.0,206.2 L552.2,202.5 L541.0,200.0 L528.5,197.5 L517.2,195.0 L509.8,195.0 L501.0,192.5 L493.5,187.5Z M621.0,245.0 L631.0,247.5 L641.0,245.0 L648.5,240.0 L656.0,235.0 L663.5,240.0 L673.5,245.0 L668.5,247.5 L661.0,252.5 L656.0,258.8 L648.5,265.0 L641.0,271.2 L637.2,270.0 L636.0,262.5 L631.0,260.0 L626.0,261.2 L621.0,258.8 L616.0,256.2 L611.0,252.5 L616.0,248.8Z M634.8,216.2 L643.5,217.0 L656.0,222.5 L654.8,225.5 L646.0,223.8 L636.0,220.0Z M634.6,216.1 L646.2,214.2 L657.9,220.0 L669.6,227.8 L665.7,233.7 L654.0,229.8 L642.3,225.9Z M682.2,240.0 L691.0,242.5 L701.0,246.2 L708.5,251.2 L716.0,256.2 L724.8,260.0 L731.0,263.8 L738.5,270.0 L746.0,273.8 L756.0,277.5 L763.5,282.5 L768.5,290.0 L774.8,296.2 L778.5,307.0 L746.0,307.0 L743.5,300.0 L736.0,292.5 L729.8,285.0 L721.0,282.5 L711.0,285.0 L703.5,283.8 L702.2,275.0 L698.5,267.5 L692.2,265.0 L692.2,258.8 L686.0,255.0 L679.8,248.8 L676.0,245.0Z M902.0,394.2 L896.5,388.0 L891.5,380.5 L887.8,374.2 L885.2,368.0 L884.0,361.8 L886.5,355.5 L885.2,348.0 L881.5,343.0 L880.2,338.0 L886.5,336.8 L894.0,339.2 L902.0,343.0 L902.0,346.8 L912.0,351.8 L922.0,356.8 L934.5,359.2 L947.0,361.8 L957.0,368.0 L967.0,371.8 L974.5,383.0 L984.5,378.0 L994.5,378.0 L1004.5,380.5 L1014.5,381.8 L1024.5,384.2 L1034.5,388.0 L1044.5,391.8 L1054.5,389.2 L1062.0,386.8 L1072.0,386.8 L1082.0,389.2 L1088.2,395.5 L1087.0,401.8 L1077.0,400.5 L1069.5,403.0 L1062.0,401.8 L1054.5,404.2 L1064.5,406.8 L1069.5,411.8 L1082.0,413.0 L1097.0,409.2 L1112.0,408.0 L1122.0,405.5 L1132.0,401.8 L1142.0,400.5 L1152.0,399.2 L1162.0,401.8 L1172.0,401.8 L1177.0,405.5 L1167.0,406.8 L1157.0,408.0 L1149.5,413.0 L1152.0,418.0 L1162.0,416.8 L1169.5,420.5 L1162.0,419.2 L1152.0,424.2 L1142.0,425.5 L1132.0,424.2 L1122.0,426.8 L1114.5,428.0 L1102.0,426.8 L1092.0,426.8 L1082.0,428.0 L1074.5,426.8 L1064.5,425.5 L1052.0,424.2 L1039.5,423.0 L1027.0,421.8 L1014.5,421.8 L1002.0,420.5 L989.5,419.2 L977.0,418.0 L964.5,416.8 L952.0,414.2 L939.5,411.8 L927.0,409.2 L917.0,405.5 L909.5,399.2 L902.0,394.2Z M1115.0,152.5 L1121.7,153.3 L1130.0,158.3 L1138.3,163.3 L1146.7,166.7 L1151.7,170.8 L1156.7,174.2 L1163.3,173.3 L1163.3,178.3 L1160.0,181.7 L1161.7,188.3 L1166.7,192.5 L1173.3,191.7 L1180.0,194.2 L1186.7,195.0 L1190.0,200.0 L1193.3,205.0 L1200.0,210.0 L1206.7,215.0 L1213.3,218.3 L1221.7,217.5 L1228.3,220.0 L1233.3,225.0 L1235.0,233.0 L1160.0,233.0 L1158.3,226.7 L1163.3,223.3 L1170.0,221.7 L1173.3,216.7 L1170.0,210.0 L1165.0,203.3 L1160.0,201.7 L1153.3,200.0 L1148.3,203.3 L1145.8,198.3 L1148.3,193.3 L1141.7,190.0 L1138.3,185.0 L1140.0,180.0 L1146.7,180.0 L1148.3,176.7 L1141.7,173.3 L1135.0,168.3 L1126.7,163.3 L1120.0,158.3Z M1120.0,180.0 L1125.0,178.3 L1123.3,183.3 L1120.0,184.2Z M1126.7,191.7 L1131.7,190.0 L1130.0,195.0 L1125.8,195.8Z M1206.7,190.0 L1213.3,191.7 L1215.8,195.0 L1210.0,194.2Z M1240.0,215.0 L1245.0,218.3 L1245.8,225.0 L1241.7,223.3Z M1266.7,208.3 L1273.3,205.0 L1281.7,204.2 L1290.0,206.7 L1300.0,210.0 L1308.3,215.0 L1315.0,221.7 L1321.7,228.3 L1326.7,233.0 L1265.0,233.0 L1265.0,225.0 L1268.3,218.3 L1266.7,213.3Z M1108.3,141.7 L1110.8,142.5 L1112.5,148.3 L1109.2,149.2Z M1134.0,162.7 L1140.7,164.3 L1147.3,166.8 L1150.7,171.0 L1155.7,174.3 L1162.3,172.7 L1164.8,176.0 L1164.0,181.0 L1160.7,184.3 L1165.7,189.3 L1172.3,191.8 L1179.0,193.5 L1187.3,195.2 L1191.5,201.0 L1197.3,206.0 L1204.0,211.0 L1205.7,215.2 L1200.7,217.7 L1196.5,219.3 L1190.7,216.0 L1182.3,216.8 L1175.7,219.3 L1173.2,214.3 L1169.8,207.7 L1165.7,202.7 L1159.0,201.0 L1152.3,197.7 L1145.7,193.5 L1139.0,190.2 L1134.0,188.5Z M1159.0,224.3 L1167.3,221.8 L1177.3,220.2 L1187.3,218.5 L1197.3,220.2 L1207.3,217.7 L1217.3,217.7 L1224.0,219.3 L1230.7,222.7 L1235.7,227.7 L1242.3,230.2 L1245.7,234.3 L1250.7,237.7 L1252.3,242.7 L1250.7,249.3 L1249.0,254.0 L1204.0,254.0 L1200.7,249.3 L1197.3,242.7 L1190.7,239.3 L1185.7,234.3 L1180.7,229.3 L1174.0,226.0 L1167.3,227.7 L1160.7,227.7Z M1269.0,211.0 L1272.3,206.0 L1279.0,203.5 L1287.3,206.0 L1295.7,209.3 L1304.0,211.8 L1310.7,216.0 L1315.7,222.7 L1322.3,229.3 L1329.0,236.0 L1337.3,239.3 L1345.7,241.0 L1355.7,242.7 L1365.7,245.2 L1372.3,249.3 L1374.0,254.0 L1302.3,254.0 L1296.5,247.7 L1290.7,241.8 L1282.3,235.7 L1277.3,231.0 L1270.7,226.0 L1267.3,222.7 L1265.7,217.7Z M1204.0,254.0 L1250.7,254.0 L1252.3,260.7 L1257.3,267.3 L1260.7,270.7 L1265.7,269.0 L1272.3,265.7 L1277.3,260.7 L1284.0,257.3 L1289.0,262.3 L1292.3,270.7 L1297.3,277.3 L1302.3,282.3 L1305.7,287.3 L1300.7,292.3 L1304.0,297.3 L1299.0,302.3 L1294.0,305.7 L1289.0,304.0 L1284.0,309.0 L1279.0,312.3 L1274.0,317.3 L1267.3,320.7 L1262.3,317.3 L1260.7,312.3 L1264.0,307.3 L1259.0,305.7 L1254.0,307.3 L1250.7,304.0 L1252.3,299.0 L1257.3,295.7 L1260.7,290.7 L1257.3,284.0 L1250.7,279.0 L1244.0,275.7 L1237.3,270.7 L1232.3,265.7 L1227.3,260.7 L1224.0,257.3Z M1280.7,317.3 L1287.3,324.0 L1294.0,332.3 L1300.7,340.7 L1307.3,347.3 L1310.7,352.0 L1300.7,352.0 L1294.0,344.0 L1287.3,337.3 L1280.7,330.7 L1275.7,324.0 L1277.3,319.0Z M1262.3,332.3 L1267.3,330.7 L1274.0,340.7 L1275.7,349.0 L1269.0,347.3 L1264.0,339.0Z M1264.0,254.0 L1267.3,249.0 L1274.0,244.0 L1280.7,247.3 L1287.3,250.7 L1294.0,254.0 L1294.0,260.7 L1289.0,259.0 L1284.0,256.5 L1277.3,257.3 L1270.7,260.7 L1265.7,260.7Z M1386.0,254.0 L1386.0,352.0 L1335.7,352.0 L1342.3,347.3 L1347.3,340.7 L1340.7,334.0 L1344.0,329.0 L1350.7,327.3 L1349.0,320.7 L1344.0,314.0 L1344.3,311.5 L1339.8,307.3 L1334.0,300.7 L1325.7,290.7 L1317.3,279.0 L1310.7,269.0 L1305.7,260.7 L1301.5,254.0Z M1265.0,336.7 L1268.3,331.7 L1275.0,335.0 L1280.0,331.7 L1283.3,336.7 L1278.3,343.3 L1275.0,350.0 L1270.0,345.0 L1265.0,341.7Z M1250.7,319.0 L1254.0,324.0 L1259.0,325.7 L1257.3,330.7 L1252.3,329.0Z M1294.0,312.3 L1300.7,317.3 L1304.0,324.0 L1299.0,327.3 L1294.0,320.7Z M1134.0,402.0 L1144.0,400.3 L1152.3,398.7 L1160.7,400.3 L1169.0,401.2 L1175.7,402.0 L1182.3,403.7 L1185.7,407.0 L1189.0,412.0 L1192.3,417.0 L1187.3,417.8 L1182.3,415.3 L1179.0,418.7 L1174.0,420.3 L1170.7,415.3 L1165.7,412.0 L1160.7,415.3 L1155.7,413.7 L1150.7,408.7 L1149.0,415.3 L1144.0,418.7 L1139.0,422.0 L1134.0,423.7Z M1200.7,395.3 L1205.7,382.0 L1212.3,380.3 L1220.7,382.0 L1229.0,382.0 L1230.7,373.7 L1235.7,368.7 L1242.3,365.3 L1249.0,368.7 L1254.0,372.0 L1260.7,370.3 L1269.0,368.7 L1272.3,373.7 L1275.7,377.0 L1284.0,377.8 L1290.7,377.0 L1294.0,383.7 L1299.0,385.3 L1300.7,368.7 L1299.0,358.7 L1299.0,352.0 L1386.0,352.0 L1386.0,408.7 L1377.3,407.0 L1367.3,405.3 L1355.7,406.2 L1347.3,408.7 L1339.0,412.8 L1332.3,416.2 L1324.0,413.7 L1317.3,417.0 L1314.0,418.7 L1307.3,412.8 L1300.7,414.5 L1292.3,417.0 L1284.0,419.5 L1275.7,419.5 L1270.7,422.8 L1264.0,429.5 L1257.3,432.8 L1250.7,427.8 L1245.7,422.8 L1240.7,418.7 L1244.0,412.0 L1240.7,408.7 L1234.0,407.0 L1230.7,402.0 L1227.3,400.3 L1224.0,405.3 L1227.3,412.0 L1230.7,417.0 L1227.3,418.7 L1220.7,413.7 L1215.7,408.7 L1210.7,407.0 L1205.7,402.0 L1202.3,398.7Z M1234.0,450.0 L1235.7,442.8 L1242.3,441.2Z M1263.3,254.0 L1281.7,254.0 L1288.3,259.0 L1293.3,264.0 L1295.0,270.7 L1300.0,279.0 L1306.7,285.7 L1308.3,294.0 L1301.7,297.3 L1298.3,292.3 L1293.3,287.3 L1286.7,290.7 L1288.3,297.3 L1283.3,304.0 L1276.7,307.3 L1270.0,312.3 L1266.7,319.0 L1263.3,324.0 L1260.0,327.3 L1262.5,317.3 L1258.7,309.0 L1263.0,300.7 L1260.0,292.3 L1262.0,284.0 L1260.0,275.7 L1268.3,279.0 L1270.0,272.3 L1263.3,265.7Z M1276.7,315.7 L1283.3,320.7 L1290.0,329.0 L1296.7,337.3 L1303.3,344.0 L1310.0,352.0 L1300.0,352.0 L1293.3,344.0 L1286.7,335.7 L1280.0,327.3 L1275.0,320.7Z M1375.0,254.0 L1376.7,264.0 L1375.8,274.0 L1375.0,284.0 L1375.8,292.3 L1373.3,300.7 L1370.8,309.0 L1371.7,317.3 L1376.7,320.7 L1381.7,327.3 L1385.0,332.3 L1386.7,339.0 L1391.7,344.0 L1396.7,349.0 L1399.2,352.0 L1336.7,352.0 L1341.7,347.3 L1346.7,342.3 L1348.3,335.7 L1341.7,332.3 L1343.3,327.3 L1348.3,324.0 L1350.0,317.3 L1346.7,310.7 L1343.3,304.0 L1340.0,295.7 L1333.3,287.3 L1326.7,279.0 L1318.3,270.7 L1311.7,262.3 L1305.0,254.0Z M1397.5,352.0 L1403.3,357.0 L1410.0,362.5 L1418.3,367.5 L1426.7,372.5 L1435.0,377.5 L1443.3,382.5 L1451.7,387.3 L1460.0,391.7 L1466.7,395.7 L1471.7,400.3 L1471.7,405.3 L1468.3,411.2 L1461.7,415.3 L1453.3,416.2 L1443.3,414.5 L1433.3,411.2 L1420.0,408.7 L1410.0,407.0 L1403.3,405.3 L1393.3,407.8 L1383.3,410.3 L1373.3,407.8 L1363.3,407.8 L1353.3,406.2 L1345.0,407.8 L1338.3,410.3 L1333.3,413.7 L1330.0,416.2 L1323.3,413.7 L1317.5,416.2 L1313.3,418.7 L1308.3,416.2 L1303.3,414.5 L1296.7,415.3 L1290.0,417.8 L1283.3,420.3 L1276.7,422.0 L1270.0,426.2 L1265.0,430.3 L1260.0,434.5 L1260.0,405.3 L1266.7,404.5 L1276.7,405.3 L1286.7,405.3 L1296.7,403.7 L1305.0,402.0 L1304.2,395.3 L1305.0,388.7 L1300.0,383.7 L1298.3,377.0 L1303.3,372.0 L1300.0,367.0 L1301.7,358.7 L1298.3,352.0Z M1260.0,372.0 L1268.3,368.7 L1273.3,375.3 L1270.0,378.7 L1260.0,382.0Z M1460.8,418.7 L1462.5,425.3 L1466.7,432.0 L1469.2,438.7 L1468.3,444.5 L1466.3,443.7 L1466.7,437.0 L1463.3,430.3 L1460.8,425.3Z" fill="#ff0000"/>
<path d="M1123.2,413.0 L1132.0,411.0 L1140.8,413.0 L1142.0,418.0 L1133.2,420.5 L1124.5,418.5Z M1251.5,387.8 L1260.7,385.3 L1275.7,385.3 L1290.7,387.0 L1304.0,388.7 L1304.0,395.3 L1305.7,402.0 L1294.0,403.7 L1284.0,402.0 L1277.3,405.3 L1267.3,403.7 L1260.7,402.0 L1265.7,397.0 L1260.7,393.7 L1254.0,392.0Z M1220.7,389.5 L1234.0,387.8 L1242.3,389.5 L1240.7,392.8 L1229.0,393.7 L1222.3,392.8Z M1224.8,383.7 L1232.3,382.8 L1234.0,385.3 L1227.3,386.2Z M1375.0,391.2 L1383.3,389.5 L1393.3,388.7 L1401.7,387.0 L1410.0,389.5 L1420.0,389.5 L1426.7,393.7 L1435.0,396.2 L1443.3,397.8 L1448.3,402.0 L1451.7,407.0 L1455.0,411.2 L1451.7,416.2 L1443.3,415.3 L1436.7,412.8 L1430.0,411.2 L1423.3,410.3 L1416.7,409.5 L1410.0,407.8 L1406.7,403.7 L1401.7,400.3 L1395.0,396.2 L1386.7,395.3 L1380.0,394.5Z M1139.0,169.3 L1145.7,170.2 L1149.0,176.0 L1144.0,178.5 L1139.8,175.2Z M1144.0,190.2 L1154.0,189.3 L1154.8,192.3 L1145.7,193.0Z M1220.7,221.0 L1226.5,220.2 L1227.3,225.2 L1222.3,226.0Z M1213.7,231.8 L1217.0,231.3 L1217.3,235.2 L1214.3,235.7Z M1275.7,284.0 L1282.3,283.2 L1284.0,289.0 L1279.0,292.3 L1275.7,289.0Z M1265.7,302.3 L1272.3,301.5 L1274.0,307.3 L1269.0,309.0Z M1275.0,284.0 L1281.7,283.2 L1283.3,289.8 L1278.3,291.5Z M1266.7,302.3 L1271.7,301.5 L1272.5,304.8 L1267.5,305.7Z" fill="#ffd700"/>
<path d="M556.0,181.2 L561.0,180.0 L566.0,185.0 L571.0,185.0 L576.0,186.2 L579.8,191.2 L583.5,192.5 L583.0,197.5 L576.0,197.5 L571.0,195.0 L566.0,193.8 L562.2,188.8Z M1291.7,216.7 L1296.7,213.3 L1300.0,217.5 L1305.0,220.0 L1311.7,225.0 L1316.7,233.0 L1301.7,233.0 L1300.0,226.7 L1295.0,221.7Z M1292.3,216.0 L1297.3,213.5 L1302.3,217.7 L1309.0,221.8 L1314.0,227.7 L1320.7,234.3 L1329.0,239.3 L1337.3,242.7 L1347.3,246.0 L1359.0,246.8 L1367.3,249.3 L1370.7,254.0 L1312.3,254.0 L1309.0,249.3 L1307.3,242.7 L1304.0,236.0 L1300.7,229.3 L1297.3,224.3 L1293.2,220.2Z M1266.5,221.8 L1269.0,221.3 L1281.5,236.0 L1279.0,237.7Z M1372.3,254.0 L1374.0,264.0 L1374.8,277.3 L1374.0,290.7 L1372.3,304.0 L1370.7,317.3 L1369.0,327.3 L1365.7,332.3 L1362.3,329.0 L1360.7,320.7 L1357.3,310.7 L1352.3,300.7 L1345.7,290.7 L1337.3,282.3 L1327.3,272.3 L1317.3,262.3 L1307.3,254.0Z M1373.3,254.0 L1374.2,260.7 L1375.0,270.7 L1374.2,280.7 L1373.3,290.7 L1370.0,300.7 L1367.5,309.0 L1368.3,319.0 L1368.3,329.0 L1365.0,333.2 L1361.7,329.0 L1360.0,320.7 L1356.7,310.7 L1351.7,300.7 L1346.7,290.7 L1336.7,280.7 L1326.7,270.7 L1316.7,260.7 L1308.3,254.0Z M1373.3,371.2 L1380.0,368.7 L1390.0,367.8 L1396.7,365.3 L1398.3,359.5 L1405.0,362.0 L1413.3,366.2 L1421.7,371.2 L1430.0,376.2 L1438.3,381.2 L1446.7,386.2 L1455.0,391.2 L1463.3,395.3 L1468.3,400.3 L1468.3,404.5 L1463.3,407.0 L1458.3,405.3 L1455.0,400.3 L1448.3,395.3 L1441.7,391.2 L1435.0,387.8 L1426.7,385.3 L1418.3,383.7 L1410.0,381.2 L1403.3,380.3 L1396.7,382.8 L1388.3,384.5 L1380.0,384.5 L1375.0,382.0 L1380.0,378.7 L1381.7,374.5Z M1310.0,404.5 L1318.3,406.2 L1330.0,403.7 L1325.0,407.8 L1316.7,409.5 L1311.7,407.8Z M1260.0,407.8 L1266.7,409.5 L1266.7,415.3 L1260.0,416.2Z M1245.7,410.3 L1252.3,407.8 L1262.3,408.7 L1269.0,410.3 L1265.7,414.5 L1257.3,416.2 L1249.0,417.0 L1245.7,414.5Z M1310.7,404.5 L1320.7,405.3 L1329.0,404.5 L1322.3,407.8 L1315.7,408.7Z M1374.0,370.3 L1380.7,367.8 L1386.0,368.7 L1386.0,383.7 L1379.0,383.7 L1375.7,380.3 L1379.0,375.3Z M904.5,360.5 L909.5,358.0 L917.0,363.0 L924.5,370.5 L928.2,376.8 L925.8,381.8 L919.5,380.5 L912.0,375.5 L905.8,368.0Z M947.0,391.0 L954.5,393.0 L964.5,398.0 L969.5,401.0 L962.0,400.5 L952.0,396.8Z M987.0,405.5 L994.5,404.2 L1002.0,406.0 L1000.8,409.2 L992.0,410.0 L987.0,408.0Z" fill="#8b0000"/>
<path d="M1345.0,260.7 L1351.7,259.0 L1356.7,264.0 L1357.5,270.7 L1353.3,274.8 L1348.3,274.0 L1345.0,269.0Z M1358.3,272.3 L1365.0,270.7 L1368.3,275.7 L1366.7,279.0 L1360.0,278.2Z M1343.3,275.7 L1348.3,274.8 L1350.0,279.0 L1345.0,280.7Z M1316.7,257.3 L1323.3,259.0 L1324.2,261.5 L1318.3,260.7Z" fill="#ff0000"/>
</g>
<path d="M482.2,186.2 L488.5,185.0 L493.5,191.2 L491.0,196.2 L484.8,195.0Z M514.8,190.0 L522.2,190.0 L522.2,193.8 L514.8,193.8Z M622.2,237.5 L628.5,235.0 L636.0,238.8 L634.8,245.0 L628.5,247.0 L623.0,243.8Z M596.0,245.8 L597.9,244.0 L601.6,244.0 L603.5,245.8 L603.5,249.2 L601.6,251.0 L597.9,251.0 L596.0,249.2Z M629.8,211.1 L631.4,209.8 L634.6,209.8 L636.2,211.1 L636.2,213.9 L634.6,215.2 L631.4,215.2 L629.8,213.9Z M637.2,224.6 L638.8,222.5 L641.8,222.5 L643.2,224.6 L643.2,228.9 L641.8,231.0 L638.8,231.0 L637.2,228.9Z M629.0,220.2 L630.0,219.2 L632.0,219.2 L633.0,220.2 L633.0,222.2 L632.0,223.2 L630.0,223.2 L629.0,222.2Z M529.0,268.2 L531.2,266.5 L535.8,266.5 L538.0,268.2 L538.0,271.8 L535.8,273.5 L531.2,273.5 L529.0,271.8Z M668.8,240.8 L671.8,239.8 L677.8,239.8 L680.8,240.8 L680.8,242.8 L677.8,243.8 L671.8,243.8 L668.8,242.8Z M728.5,264.4 L729.8,262.5 L732.2,262.5 L733.5,264.4 L733.5,268.1 L732.2,270.0 L729.8,270.0 L728.5,268.1Z M673.8,226.5 L674.6,225.0 L676.4,225.0 L677.2,226.5 L677.2,229.5 L676.4,231.0 L674.6,231.0 L673.8,229.5Z M747.2,319.2 L749.1,317.5 L752.9,317.5 L754.8,319.2 L754.8,322.8 L752.9,324.5 L749.1,324.5 L747.2,322.8Z M751.0,360.6 L752.8,359.0 L756.2,359.0 L758.0,360.6 L758.0,363.9 L756.2,365.5 L752.8,365.5 L751.0,363.9Z M876.2,446.2 L882.5,448.8 L883.8,453.8 L880.0,456.2 L876.2,452.5Z M1095.8,389.2 L1102.0,385.5 L1109.5,388.0 L1114.5,391.8 L1122.0,394.2 L1125.8,399.2 L1117.0,401.8 L1107.0,399.2 L1099.5,396.8 L1094.5,394.2Z M1108.2,375.5 L1119.5,374.2 L1129.5,376.8 L1134.5,381.8 L1127.0,385.5 L1117.0,383.0 L1109.5,381.8Z M1077.0,376.8 L1088.2,375.5 L1087.0,380.5 L1078.2,381.0Z M1095.8,368.0 L1103.2,366.8 L1104.5,376.8 L1097.0,378.0Z M1070.8,406.8 L1077.0,404.2 L1084.5,405.5 L1083.2,410.5 L1074.5,411.0Z M1187.0,370.5 L1197.0,369.2 L1204.5,374.2 L1205.0,381.8 L1197.0,384.2 L1187.0,383.0Z M1194.5,418.0 L1196.0,416.8 L1199.0,416.8 L1200.5,418.0 L1200.5,420.5 L1199.0,421.8 L1196.0,421.8 L1194.5,420.5Z M1208.3,344.2 L1216.7,343.3 L1225.8,346.7 L1224.2,353.3 L1217.5,354.7 L1213.3,358.7 L1210.0,354.2Z M1204.2,200.0 L1210.0,197.5 L1215.0,200.8 L1214.2,208.3 L1210.0,212.5 L1205.8,208.3Z M1258.3,208.3 L1263.3,205.0 L1264.2,215.0 L1263.3,225.0 L1258.3,226.7 L1256.7,218.3Z M1127.5,171.7 L1134.2,170.8 L1135.8,175.0 L1130.0,176.7Z M1105.0,190.0 L1113.3,186.7 L1119.2,191.7 L1118.3,200.0 L1111.7,204.2 L1105.8,200.0Z M1294.0,257.3 L1300.7,259.0 L1307.3,267.3 L1314.0,277.3 L1322.3,289.0 L1330.7,299.0 L1336.5,305.7 L1332.3,309.0 L1325.7,302.3 L1317.3,294.0 L1314.0,300.7 L1315.7,312.3 L1322.3,320.7 L1314.0,324.0 L1305.7,327.3 L1302.3,322.3 L1309.0,315.7 L1312.3,305.7 L1310.7,294.0 L1307.3,284.0 L1300.7,279.0 L1297.3,270.7 L1294.0,264.0Z M1253.2,249.0 L1262.3,249.0 L1263.2,262.3 L1258.2,266.5 L1254.0,262.3Z M1259.0,272.3 L1264.0,270.7 L1269.0,279.0 L1262.3,280.7Z M1250.7,294.0 L1255.7,293.2 L1257.3,299.0 L1253.2,300.7Z M1292.3,299.0 L1297.3,298.2 L1300.7,304.0 L1295.7,304.8Z M1336.5,315.7 L1340.7,314.8 L1341.5,322.3 L1337.3,323.2Z M1330.7,329.8 L1340.7,329.0 L1341.0,334.0 L1331.5,334.8Z M1305.7,335.7 L1311.5,334.0 L1310.7,339.0 L1307.3,340.7Z M1240.7,321.5 L1247.3,320.7 L1248.2,325.7 L1242.3,327.3Z M1238.2,330.7 L1243.2,329.8 L1244.8,335.7 L1239.8,335.7Z M1396.7,389.5 L1403.3,390.3 L1410.0,392.8 L1420.0,392.0 L1421.7,396.2 L1413.3,398.7 L1406.7,397.8 L1400.0,394.5Z M1425.0,400.3 L1431.7,397.8 L1441.7,397.8 L1445.8,402.0 L1445.0,407.0 L1436.7,409.5 L1428.3,409.5 L1424.2,405.3Z M1261.7,387.8 L1276.7,387.3 L1278.3,392.0 L1263.3,392.8Z M1288.3,389.5 L1302.5,389.0 L1303.3,393.3 L1290.0,393.7Z M1280.8,359.5 L1289.2,358.7 L1297.5,362.8 L1295.8,367.8 L1290.0,367.8 L1281.7,363.7Z M1187.3,370.3 L1195.7,368.7 L1204.0,372.0 L1204.0,380.3 L1197.3,383.7 L1187.3,383.7Z M1194.8,416.2 L1199.8,416.2 L1200.7,421.2 L1194.8,422.0Z M1212.3,353.7 L1217.3,352.0 L1219.0,358.7 L1214.0,360.3Z M1244.0,362.0 L1250.7,361.7 L1250.7,365.3 L1244.0,365.7Z M1213.2,411.2 L1219.0,410.3 L1219.8,414.5 L1214.0,415.3Z" fill="#fff" stroke="#18e018" stroke-width="4.4" stroke-linejoin="round"/>
<path d="M482.2,186.2 L488.5,185.0 L493.5,191.2 L491.0,196.2 L484.8,195.0Z M514.8,190.0 L522.2,190.0 L522.2,193.8 L514.8,193.8Z M622.2,237.5 L628.5,235.0 L636.0,238.8 L634.8,245.0 L628.5,247.0 L623.0,243.8Z M596.0,245.8 L597.9,244.0 L601.6,244.0 L603.5,245.8 L603.5,249.2 L601.6,251.0 L597.9,251.0 L596.0,249.2Z M629.8,211.1 L631.4,209.8 L634.6,209.8 L636.2,211.1 L636.2,213.9 L634.6,215.2 L631.4,215.2 L629.8,213.9Z M637.2,224.6 L638.8,222.5 L641.8,222.5 L643.2,224.6 L643.2,228.9 L641.8,231.0 L638.8,231.0 L637.2,228.9Z M629.0,220.2 L630.0,219.2 L632.0,219.2 L633.0,220.2 L633.0,222.2 L632.0,223.2 L630.0,223.2 L629.0,222.2Z M529.0,268.2 L531.2,266.5 L535.8,266.5 L538.0,268.2 L538.0,271.8 L535.8,273.5 L531.2,273.5 L529.0,271.8Z M668.8,240.8 L671.8,239.8 L677.8,239.8 L680.8,240.8 L680.8,242.8 L677.8,243.8 L671.8,243.8 L668.8,242.8Z M728.5,264.4 L729.8,262.5 L732.2,262.5 L733.5,264.4 L733.5,268.1 L732.2,270.0 L729.8,270.0 L728.5,268.1Z M673.8,226.5 L674.6,225.0 L676.4,225.0 L677.2,226.5 L677.2,229.5 L676.4,231.0 L674.6,231.0 L673.8,229.5Z M747.2,319.2 L749.1,317.5 L752.9,317.5 L754.8,319.2 L754.8,322.8 L752.9,324.5 L749.1,324.5 L747.2,322.8Z M751.0,360.6 L752.8,359.0 L756.2,359.0 L758.0,360.6 L758.0,363.9 L756.2,365.5 L752.8,365.5 L751.0,363.9Z M876.2,446.2 L882.5,448.8 L883.8,453.8 L880.0,456.2 L876.2,452.5Z M1095.8,389.2 L1102.0,385.5 L1109.5,388.0 L1114.5,391.8 L1122.0,394.2 L1125.8,399.2 L1117.0,401.8 L1107.0,399.2 L1099.5,396.8 L1094.5,394.2Z M1108.2,375.5 L1119.5,374.2 L1129.5,376.8 L1134.5,381.8 L1127.0,385.5 L1117.0,383.0 L1109.5,381.8Z M1077.0,376.8 L1088.2,375.5 L1087.0,380.5 L1078.2,381.0Z M1095.8,368.0 L1103.2,366.8 L1104.5,376.8 L1097.0,378.0Z M1070.8,406.8 L1077.0,404.2 L1084.5,405.5 L1083.2,410.5 L1074.5,411.0Z M1187.0,370.5 L1197.0,369.2 L1204.5,374.2 L1205.0,381.8 L1197.0,384.2 L1187.0,383.0Z M1194.5,418.0 L1196.0,416.8 L1199.0,416.8 L1200.5,418.0 L1200.5,420.5 L1199.0,421.8 L1196.0,421.8 L1194.5,420.5Z M1208.3,344.2 L1216.7,343.3 L1225.8,346.7 L1224.2,353.3 L1217.5,354.7 L1213.3,358.7 L1210.0,354.2Z M1204.2,200.0 L1210.0,197.5 L1215.0,200.8 L1214.2,208.3 L1210.0,212.5 L1205.8,208.3Z M1258.3,208.3 L1263.3,205.0 L1264.2,215.0 L1263.3,225.0 L1258.3,226.7 L1256.7,218.3Z M1127.5,171.7 L1134.2,170.8 L1135.8,175.0 L1130.0,176.7Z M1105.0,190.0 L1113.3,186.7 L1119.2,191.7 L1118.3,200.0 L1111.7,204.2 L1105.8,200.0Z M1294.0,257.3 L1300.7,259.0 L1307.3,267.3 L1314.0,277.3 L1322.3,289.0 L1330.7,299.0 L1336.5,305.7 L1332.3,309.0 L1325.7,302.3 L1317.3,294.0 L1314.0,300.7 L1315.7,312.3 L1322.3,320.7 L1314.0,324.0 L1305.7,327.3 L1302.3,322.3 L1309.0,315.7 L1312.3,305.7 L1310.7,294.0 L1307.3,284.0 L1300.7,279.0 L1297.3,270.7 L1294.0,264.0Z M1253.2,249.0 L1262.3,249.0 L1263.2,262.3 L1258.2,266.5 L1254.0,262.3Z M1259.0,272.3 L1264.0,270.7 L1269.0,279.0 L1262.3,280.7Z M1250.7,294.0 L1255.7,293.2 L1257.3,299.0 L1253.2,300.7Z M1292.3,299.0 L1297.3,298.2 L1300.7,304.0 L1295.7,304.8Z M1336.5,315.7 L1340.7,314.8 L1341.5,322.3 L1337.3,323.2Z M1330.7,329.8 L1340.7,329.0 L1341.0,334.0 L1331.5,334.8Z M1305.7,335.7 L1311.5,334.0 L1310.7,339.0 L1307.3,340.7Z M1240.7,321.5 L1247.3,320.7 L1248.2,325.7 L1242.3,327.3Z M1238.2,330.7 L1243.2,329.8 L1244.8,335.7 L1239.8,335.7Z M1396.7,389.5 L1403.3,390.3 L1410.0,392.8 L1420.0,392.0 L1421.7,396.2 L1413.3,398.7 L1406.7,397.8 L1400.0,394.5Z M1425.0,400.3 L1431.7,397.8 L1441.7,397.8 L1445.8,402.0 L1445.0,407.0 L1436.7,409.5 L1428.3,409.5 L1424.2,405.3Z M1261.7,387.8 L1276.7,387.3 L1278.3,392.0 L1263.3,392.8Z M1288.3,389.5 L1302.5,389.0 L1303.3,393.3 L1290.0,393.7Z M1280.8,359.5 L1289.2,358.7 L1297.5,362.8 L1295.8,367.8 L1290.0,367.8 L1281.7,363.7Z M1187.3,370.3 L1195.7,368.7 L1204.0,372.0 L1204.0,380.3 L1197.3,383.7 L1187.3,383.7Z M1194.8,416.2 L1199.8,416.2 L1200.7,421.2 L1194.8,422.0Z M1212.3,353.7 L1217.3,352.0 L1219.0,358.7 L1214.0,360.3Z M1244.0,362.0 L1250.7,361.7 L1250.7,365.3 L1244.0,365.7Z M1213.2,411.2 L1219.0,410.3 L1219.8,414.5 L1214.0,415.3Z" fill="#fff" stroke="#00ffff" stroke-width="2.0" stroke-linejoin="round"/>
<path d="M586.5,220.0 L593.5,217.5 L600.5,223.8 L599.0,229.5 L592.2,228.5 L588.0,225.5Z" fill="#00ffff" stroke="#18e018" stroke-width="2.6" stroke-linejoin="round"/>
</g>
<path d="M344.8,16.5 L331.0,27.8 L318.5,36.0 L312.2,39.0 L286.0,44.0 L258.5,55.2 L256.0,59.0 L246.0,89.0 L236.0,116.5 L221.0,141.5 L212.2,156.0 L212.2,156.0 L208.5,162.2 L199.8,172.2 L194.8,181.0 L191.0,189.8 L188.5,193.0 L171.0,201.0 L146.0,212.2 M343.5,9.0 L344.2,15.2 L346.0,16.5 L349.0,20.2 L348.0,24.5 L341.0,35.2 L336.0,42.8 L334.8,47.8 L337.2,49.0 L371.0,51.0 L411.0,52.2 L431.0,54.5 L449.8,59.0 L452.2,56.5 L458.5,51.5 L468.5,49.5 L476.0,47.8 L479.8,51.5 L488.5,53.5 L493.5,55.2 L496.0,60.2 L503.5,65.2 L512.2,63.5 L515.5,62.8 L516.0,57.8 L518.5,57.2 L520.2,61.5 L519.8,69.0 L524.0,74.5 L524.0,75.2 L526.5,72.8 L531.5,71.0 L534.0,74.0 L535.2,80.2 L539.5,83.2 L537.8,85.2 L534.0,86.5 L533.5,90.2 L530.2,93.5 L531.5,96.5 L535.2,100.2 L537.8,107.8 L540.2,112.0 L545.2,111.5 L549.0,109.0 L547.8,104.0 L551.5,98.5 L555.2,96.0 L556.5,92.8 L561.5,87.8 L566.5,81.5 L572.0,74.8 L577.8,76.5 L586.5,79.5 L595.2,81.5 L604.0,80.2 L611.0,80.2 L612.8,76.0 L617.8,72.8 L624.0,71.5 L629.0,72.8 L632.8,76.0 L636.5,82.0 L640.2,84.0 L646.5,85.8 L654.0,83.5 L661.5,82.2 L667.8,76.5 L674.0,73.5 L680.2,71.5 L687.8,67.8 L689.0,64.5 L685.2,61.0 L682.0,56.5 L682.0,51.5 L684.0,45.2 L687.0,39.0 L687.8,35.2 L686.5,32.8 L692.8,31.5 L690.2,29.5 L685.2,27.8 L687.8,25.2 L694.0,27.8 L699.0,29.5 L703.5,29.0 L705.2,25.2 L709.0,26.5 L711.0,28.5 L713.5,25.2 L713.5,19.5 L716.5,17.8 L719.0,20.2 L721.5,26.5 L725.2,31.0 L731.5,33.2 L736.5,32.8 L744.0,27.8 L750.2,23.5 L752.0,17.8 L750.2,12.8 L746.5,11.0 L742.8,9.0 M735.2,9.0 L736.5,12.0 L739.5,12.8 L741.5,10.2 L742.0,9.0 M431.0,54.5 L431.0,59.0 L434.8,62.8 L435.5,67.8 L431.0,71.5 L424.8,74.0 L421.8,80.2 L423.0,84.5 L428.5,85.2 L436.0,82.8 L441.0,81.0 L443.5,84.0 L442.2,91.5 L440.5,101.5 L439.8,109.0 L444.8,116.5 L444.8,124.0 L441.0,127.0 L434.8,128.5 L433.5,131.5 L439.8,139.0 L444.8,146.0 L448.5,146.5 L449.8,142.8 L461.0,141.0 L471.0,137.8 L477.2,136.0 L482.2,137.8 L488.5,139.0 L493.5,144.0 L496.0,149.0 L501.0,152.8 L508.5,155.2 L512.2,157.2 L514.8,161.0 L521.0,162.2 L524.0,158.0 L534.0,159.0 L542.8,156.0 L549.0,154.8 L551.0,152.5 L554.0,152.0 L554.0,156.0 L554.5,156.0 L561.5,158.5 L564.0,166.0 L561.5,172.2 L565.2,178.5 L571.5,186.0 L577.8,193.5 L582.0,198.5 L580.2,204.8 L577.0,209.8 L580.2,218.5 L585.2,231.0 L590.2,243.5 L596.5,256.0 L606.5,266.0 L615.2,274.8 L620.2,278.5 L622.8,282.2 L631.5,284.8 L641.5,291.0 L651.5,299.8 L654.0,303.0 L654.0,303.0 L660.2,310.5 L665.2,318.0 L667.0,323.5 L662.8,325.0 L659.0,321.0 L655.2,325.0 L647.8,328.0 L646.0,331.8 L649.0,335.5 L655.2,334.2 L659.0,332.5 L658.5,336.8 L654.0,340.5 L652.8,348.0 L648.5,350.5 L650.2,354.2 L645.2,356.8 L644.0,360.5 L649.0,364.2 L651.5,370.0 L656.5,372.5 L666.5,371.0 L674.0,370.5 L679.0,374.2 L682.8,377.5 L686.0,375.5 L687.0,370.0 L684.0,363.0 L682.0,354.2 L680.2,345.5 L680.2,340.5 L684.0,338.0 L690.2,338.0 L696.5,336.0 L701.0,338.0 L704.0,340.5 L705.2,336.8 L702.0,332.5 L702.8,328.0 L706.0,325.5 L702.8,323.0 L700.2,320.5 L702.0,318.5 L707.8,320.5 L712.8,323.5 L721.5,323.0 L724.5,326.8 L727.8,330.0 L722.8,332.5 L724.0,337.5 L729.0,340.0 L734.0,343.0 L736.5,349.2 L739.0,351.8 L744.0,349.2 L752.8,347.5 L754.0,343.0 L751.5,338.0 L754.0,334.2 L761.5,329.2 L770.2,321.8 L776.5,315.5 L781.5,313.5 L786.5,316.0 L792.8,321.8 L796.5,328.0 L796.0,338.0 L797.0,349.2 L797.8,360.5 L796.0,370.5 L793.5,378.0 L792.0,388.0 L792.8,393.0 L789.5,396.0 L792.0,398.5 L799.0,397.5 L805.2,393.0 L811.5,389.2 L816.5,386.8 L812.8,383.0 L812.0,379.2 L816.5,377.5 L822.8,379.2 L827.8,378.0 L831.0,376.0 L834.0,378.5 L837.8,376.8 L841.0,379.2 L845.2,376.8 L849.0,377.5 M886.5,9.0 L879.0,15.2 L869.0,24.0 L867.8,29.0 L856.5,36.0 L854.0,39.5 L849.0,41.0 L841.5,49.0 L838.5,56.5 L836.5,66.5 L834.0,75.2 L831.5,81.0 L827.0,82.0 L826.5,86.5 L822.8,91.0 L821.5,95.2 L820.2,100.2 L821.5,105.2 L820.2,110.2 L816.0,112.8 L815.2,115.2 L817.8,119.0 L816.5,122.8 L820.2,125.2 L821.5,129.0 L816.5,132.8 L820.2,133.5 L825.2,134.0 L828.5,137.0 L827.0,141.5 L827.8,146.5 L829.0,151.5 L827.0,156.0 L826.5,156.0 L827.8,168.5 L827.0,179.8 L830.2,186.0 L835.2,196.0 L834.0,201.0 L839.0,209.8 L837.8,216.0 L837.8,217.2 L840.2,223.5 L847.8,229.8 L854.0,241.0 L857.8,252.2 L851.5,257.2 L854.0,263.5 L857.8,269.8 L861.5,272.2 L864.0,277.2 L870.2,278.5 L872.8,283.5 L876.5,284.8 L879.0,292.2 L880.2,298.5 L879.0,303.0 L882.8,303.0 L885.2,308.0 L884.0,313.0 L886.5,316.8 L884.0,320.0 L881.0,323.0 L882.0,328.0 L878.5,332.5 L879.0,338.0 L882.8,343.0 L886.0,350.5 L885.2,356.8 L880.2,361.8 L876.5,364.2 L870.2,368.5 L862.8,370.0 L855.2,373.5 L849.0,377.5 M837.8,217.2 L827.8,217.2 L819.0,215.5 L811.5,219.0 L801.5,221.5 L796.5,228.5 L796.5,238.5 L797.8,243.5 L792.8,252.2 L785.2,256.0 L781.5,261.0 L786.5,266.0 L787.0,269.8 L799.0,268.5 L805.2,264.0 L811.5,266.0 L817.8,272.2 L826.5,278.5 L835.2,283.0 L841.0,281.0 L842.8,274.8 L849.0,271.5 L857.8,269.8 M849.0,377.5 L850.2,385.5 L854.0,394.2 L855.5,399.2 L856.2,405.0 L854.5,410.0 L858.8,413.8 L860.0,420.0 L865.0,427.5 L870.0,435.0 L873.8,440.0 L882.5,443.8 L890.0,447.5 L896.2,450.0 L898.0,456.2 L901.2,462.5 L903.8,467.5 L905.0,471.2 L900.0,475.0 L896.2,480.0 L890.0,482.5 L883.8,484.5 L882.0,487.5 L885.0,490.0 L887.5,493.8 L895.0,495.5 L901.2,493.8 L903.8,496.2 L907.5,498.8 L912.5,497.0 L915.0,498.8 L913.8,501.2 L905.0,503.0 L895.0,507.0 L885.0,511.2 L876.2,515.0 L868.8,519.5 L867.5,525.0 L866.2,532.5 L868.8,534.5 L872.5,531.2 L876.2,526.2 L878.8,523.8 L886.2,522.5 L895.0,518.8 L903.8,515.0 L910.0,512.0 L915.0,510.0 L925.0,510.5 L932.5,512.5 L936.2,514.5 L940.0,513.0 L950.0,514.5 L957.5,515.8 L959.5,519.5 L961.2,519.5 L962.5,515.0 L968.8,511.2 L975.0,508.0 L985.0,508.0 L993.8,510.0 L993.8,513.8 L988.8,517.5 L983.8,519.5 L985.0,523.8 L988.0,525.5 L995.0,525.5 L998.8,522.5 L1006.2,521.2 L1012.5,522.0 L1016.2,525.5 L1022.5,527.5 L1027.5,530.5 L1035.0,531.8 L1042.5,535.8 L1047.5,536.2 L1051.2,533.2 L1057.5,532.5 L1063.0,530.5 L1066.2,531.2 L1067.5,533.8 L1071.2,532.0 L1075.0,535.0 L1080.0,537.5 L1086.2,543.8 L1090.0,545.5 L1097.5,544.5 L1099.5,547.0 L1100.0,550.0 M985.0,525.0 L980.0,530.0 L973.8,531.2 L972.5,537.5 L971.2,543.8 L970.5,550.0 M953.8,548.0 L958.8,545.5 L962.5,548.0 M948.2,9.0 L949.0,12.8 L942.0,17.8 L933.2,25.2 L927.0,39.0 L919.0,50.2 L919.0,64.0 L922.0,75.2 L927.0,89.0 L932.5,97.0 L943.2,92.8 L951.2,87.8 L959.5,91.5 L968.2,96.5 L974.5,97.8 L982.0,94.5 L986.5,89.0 L987.5,81.5 L984.5,71.5 L981.5,62.8 L981.5,56.5 L985.8,53.2 L990.8,53.2 L998.2,60.2 L1005.8,69.0 L1012.0,80.2 L1019.5,84.0 L1029.5,87.8 L1035.8,94.0 L1042.0,105.2 L1054.5,116.5 L1072.0,125.2 L1084.5,130.8 L1095.8,132.0 L1097.0,135.2 L1093.2,140.2 L1087.0,145.2 L1081.5,144.0 L1080.8,147.0 L1075.8,149.0 L1069.5,149.0 L1067.0,151.5 L1068.2,156.0 L1068.2,156.0 L1077.0,159.8 L1088.2,164.8 L1093.2,171.0 L1095.8,181.0 L1104.5,177.2 L1114.5,174.0 L1122.0,177.2 L1130.8,181.0 L1132.0,187.2 L1143.2,196.0 L1154.5,202.2 L1163.2,201.8 L1168.2,206.0 L1172.0,213.5 L1175.8,219.0 L1187.0,217.2 L1197.0,216.0 L1199.5,219.0 L1208.2,217.2 L1217.0,216.0 L1223.2,214.8 L1232.0,216.5 L1235.8,221.5 L1238.2,226.0 L1242.0,224.0 L1244.5,228.5 L1248.2,229.8 L1250.8,233.5 L1254.5,236.5 L1262.0,236.5 L1268.2,232.2 L1270.8,226.0 L1265.8,221.0 L1264.5,213.5 L1267.0,206.0 L1274.5,201.0 L1277.0,193.5 L1277.0,183.5 L1280.0,179.8 L1279.0,179.8 L1286.5,178.0 L1294.0,176.0 L1295.2,171.0 L1293.5,166.0 L1299.0,164.8 L1302.0,159.8 L1303.5,156.0 L1303.5,156.0 L1302.8,151.5 L1297.8,147.8 L1296.5,141.5 L1292.8,134.0 L1294.0,131.5 L1299.0,129.0 L1300.2,125.2 L1309.0,117.0 L1310.2,114.0 L1316.5,109.0 L1319.0,104.0 L1316.5,96.5 L1313.5,89.0 L1315.2,82.8 L1320.2,79.0 L1326.5,77.8 L1332.8,75.2 L1341.5,66.5 L1345.2,57.8 L1347.8,53.5 L1356.5,50.2 L1364.0,44.0 L1374.0,35.2 L1381.5,27.8 L1387.8,19.0 L1394.0,14.0 L1399.0,18.5 L1410.2,15.2 L1411.5,12.8 L1409.0,9.0 M1265.8,221.0 L1274.0,224.8 L1281.5,231.0 L1289.0,236.0 L1296.5,239.8 L1304.0,244.8 L1309.0,249.8 L1314.0,253.5 L1320.2,256.0 L1325.2,258.5 L1330.2,261.0 L1334.0,263.5 L1335.2,256.0 L1336.0,248.5 L1341.5,246.5 L1346.5,251.0 L1352.8,252.2 L1359.0,256.0 L1366.5,262.2 L1374.0,267.2 L1380.2,271.5 L1389.0,273.0 L1394.0,274.8 L1395.2,278.5 L1400.2,282.2 L1409.0,283.0 L1411.5,287.2 L1419.0,288.5 L1426.5,291.0 L1436.5,293.0 L1441.5,298.5 L1442.8,303.0 L1442.8,303.0 L1445.2,309.2 L1451.5,315.5 L1455.2,321.8 L1454.0,326.8 L1459.0,329.2 L1466.5,324.2 L1472.8,326.8 L1480.2,334.2 L1484.0,339.2 L1494.0,344.2 L1503.5,350.0 M1410.2,15.2 L1415.2,20.2 L1419.0,29.0 L1422.8,36.5 L1425.2,42.8 L1434.0,41.5 L1440.2,44.0 L1445.2,44.0 L1446.5,39.0 L1451.5,36.5 L1456.5,37.8 L1464.0,42.0 L1472.8,41.0 L1476.5,44.0 L1480.2,51.5 L1480.2,59.0 L1486.5,62.8 L1491.5,57.8 L1497.8,55.2 L1503.5,54.8 M1468.7,9.1 L1466.7,15.2 L1464.7,22.3 L1462.7,26.4 L1453.5,28.4 L1451.5,33.5 L1446.5,36.5 M1425.2,42.8 L1419.0,47.8 L1412.0,56.5 L1416.5,62.8 L1419.0,72.8 L1420.8,81.5 L1417.8,85.2 L1404.0,89.0 L1391.5,91.5 L1384.0,95.2 L1377.8,95.2 L1374.0,99.0 L1376.5,107.8 L1375.2,114.0 L1371.5,117.8 L1375.2,120.2 L1384.0,121.5 L1394.0,132.0 L1387.8,137.8 L1380.2,140.2 L1375.2,145.2 L1370.2,156.0 L1370.2,156.0 L1367.8,162.2 L1361.5,168.5 L1354.0,171.5 L1346.5,176.0 L1341.5,183.5 L1337.8,191.0 L1335.2,199.8 L1336.0,209.8 L1336.5,218.5 L1339.0,228.5 L1341.5,238.5 L1341.5,246.5 M1503.5,141.5 L1494.0,142.8 L1486.5,147.8 L1482.8,152.8 L1484.0,156.0 L1484.0,156.0 L1485.2,163.5 L1486.5,169.8 L1490.2,174.8 L1495.2,178.5 L1497.8,182.2 L1499.0,188.5 L1503.5,190.5 M1495.2,179.0 L1489.0,182.2 L1480.2,187.2 L1474.0,193.5 L1473.5,198.5 L1479.0,207.2 L1484.0,216.0 L1489.0,222.2 L1494.0,226.0 L1497.8,231.0 L1495.2,234.0 L1490.2,235.5 L1489.0,232.2 L1490.2,228.5 L1487.8,223.5 L1482.8,217.2 L1479.0,213.0 L1474.0,211.0 L1466.5,210.5 L1456.5,209.8 L1449.0,211.0 L1440.2,208.5 L1431.5,204.8 L1424.0,202.2 L1416.5,201.5 L1411.0,205.5 L1412.8,208.5 L1419.0,213.5 L1426.5,218.5 L1434.0,221.0 L1440.2,224.8 L1437.8,221.0 L1442.0,219.8 L1445.2,224.8 L1444.0,228.5 L1449.0,236.0 L1454.0,243.5 L1454.0,249.8 L1450.2,256.0 L1444.0,262.2 L1436.5,268.5 L1429.0,274.8 L1421.5,281.0 L1419.0,286.0 L1419.0,288.5" fill="none" stroke="#000" stroke-width="1.75" stroke-linejoin="round" stroke-linecap="round"/>
<polygon points="668.50,183.50 669.82,187.58 674.11,187.58 670.64,190.10 671.97,194.17 668.50,191.65 665.03,194.17 666.36,190.10 662.89,187.58 667.18,187.58" fill="#000" stroke="#000" stroke-width="0.8" stroke-linejoin="miter"/>
<text x="675" y="184" font-size="16.4">Haryana</text>
<polygon points="822.75,236.70 824.07,240.78 828.36,240.78 824.89,243.30 826.22,247.37 822.75,244.85 819.28,247.37 820.61,243.30 817.14,240.78 821.43,240.78" fill="#000" stroke="#000" stroke-width="0.8" stroke-linejoin="miter"/>
<text x="829.2" y="236.8" font-size="16.4">Delhi</text>
<polygon points="865.25,262.50 866.57,266.58 870.86,266.58 867.39,269.10 868.72,273.17 865.25,270.65 861.78,273.17 863.11,269.10 859.64,266.58 863.93,266.58" fill="#000" stroke="#000" stroke-width="0.8" stroke-linejoin="miter"/>
<text x="871.7" y="262.8" font-size="16.4">Noida</text>
<polygon points="1174.50,287.50 1175.82,291.58 1180.11,291.58 1176.64,294.10 1177.97,298.17 1174.50,295.65 1171.03,298.17 1172.36,294.10 1168.89,291.58 1173.18,291.58" fill="#000" stroke="#000" stroke-width="0.8" stroke-linejoin="miter"/>
<text x="1181.2" y="288.2" font-size="16.4">Bareilly</text>
<polygon points="959.50,468.00 960.82,472.08 965.11,472.08 961.64,474.60 962.97,478.67 959.50,476.15 956.03,478.67 957.36,474.60 953.89,472.08 958.18,472.08" fill="#000" stroke="#000" stroke-width="0.8" stroke-linejoin="miter"/>
<text x="966.3" y="467.9" font-size="16.4">Agra</text>
<polygon points="623.50,507.50 624.82,511.58 629.11,511.58 625.64,514.10 626.97,518.17 623.50,515.65 620.03,518.17 621.36,514.10 617.89,511.58 622.18,511.58" fill="#000" stroke="#000" stroke-width="0.8" stroke-linejoin="miter"/>
<text x="629.2" y="507.8" font-size="16.4">Jaipur</text>
</g>
<rect x="146.5" y="9.3" width="1357.0" height="539.0" fill="none" stroke="#000" stroke-width="1.1"/>
<line x1="146.5" y1="548.3" x2="146.5" y2="558.8" stroke="#000" stroke-width="3"/>
<text x="146.7" y="578.3" font-size="16.67" text-anchor="middle">72.638 degE</text>
<line x1="449.1" y1="548.3" x2="449.1" y2="558.8" stroke="#000" stroke-width="3"/>
<text x="449.3" y="578.3" font-size="16.67" text-anchor="middle">74.638 degE</text>
<line x1="751.7" y1="548.3" x2="751.7" y2="558.8" stroke="#000" stroke-width="3"/>
<text x="751.9" y="578.3" font-size="16.67" text-anchor="middle">76.638 degE</text>
<line x1="1054.3" y1="548.3" x2="1054.3" y2="558.8" stroke="#000" stroke-width="3"/>
<text x="1054.5" y="578.3" font-size="16.67" text-anchor="middle">78.638 degE</text>
<line x1="1356.9" y1="548.3" x2="1356.9" y2="558.8" stroke="#000" stroke-width="3"/>
<text x="1357.1" y="578.3" font-size="16.67" text-anchor="middle">80.638 degE</text>
<line x1="222.2" y1="548.3" x2="222.2" y2="551.5999999999999" stroke="#000" stroke-width="0.9"/>
<line x1="297.8" y1="548.3" x2="297.8" y2="551.5999999999999" stroke="#000" stroke-width="0.9"/>
<line x1="373.5" y1="548.3" x2="373.5" y2="551.5999999999999" stroke="#000" stroke-width="0.9"/>
<line x1="524.8" y1="548.3" x2="524.8" y2="551.5999999999999" stroke="#000" stroke-width="0.9"/>
<line x1="600.4" y1="548.3" x2="600.4" y2="551.5999999999999" stroke="#000" stroke-width="0.9"/>
<line x1="676.1" y1="548.3" x2="676.1" y2="551.5999999999999" stroke="#000" stroke-width="0.9"/>
<line x1="827.4" y1="548.3" x2="827.4" y2="551.5999999999999" stroke="#000" stroke-width="0.9"/>
<line x1="903.0" y1="548.3" x2="903.0" y2="551.5999999999999" stroke="#000" stroke-width="0.9"/>
<line x1="978.7" y1="548.3" x2="978.7" y2="551.5999999999999" stroke="#000" stroke-width="0.9"/>
<line x1="1130.0" y1="548.3" x2="1130.0" y2="551.5999999999999" stroke="#000" stroke-width="0.9"/>
<line x1="1205.6" y1="548.3" x2="1205.6" y2="551.5999999999999" stroke="#000" stroke-width="0.9"/>
<line x1="1281.2" y1="548.3" x2="1281.2" y2="551.5999999999999" stroke="#000" stroke-width="0.9"/>
<line x1="1432.6" y1="548.3" x2="1432.6" y2="551.5999999999999" stroke="#000" stroke-width="0.9"/>
<line x1="146.5" y1="548.3" x2="135.5" y2="548.3" stroke="#000" stroke-width="3"/>
<text x="130.1" y="554.6" font-size="16.67" text-anchor="end">26.6843 degN</text>
<line x1="146.5" y1="397.0" x2="135.5" y2="397.0" stroke="#000" stroke-width="3"/>
<text x="130.1" y="403.3" font-size="16.67" text-anchor="end">27.6843 degN</text>
<line x1="146.5" y1="245.7" x2="135.5" y2="245.7" stroke="#000" stroke-width="3"/>
<text x="130.1" y="252.0" font-size="16.67" text-anchor="end">28.6843 degN</text>
<line x1="146.5" y1="94.4" x2="135.5" y2="94.4" stroke="#000" stroke-width="3"/>
<text x="130.1" y="100.7" font-size="16.67" text-anchor="end">29.6843 degN</text>
<line x1="146.5" y1="518.0" x2="143.2" y2="518.0" stroke="#000" stroke-width="0.9"/>
<line x1="146.5" y1="487.8" x2="143.2" y2="487.8" stroke="#000" stroke-width="0.9"/>
<line x1="146.5" y1="457.5" x2="143.2" y2="457.5" stroke="#000" stroke-width="0.9"/>
<line x1="146.5" y1="427.3" x2="143.2" y2="427.3" stroke="#000" stroke-width="0.9"/>
<line x1="146.5" y1="366.7" x2="143.2" y2="366.7" stroke="#000" stroke-width="0.9"/>
<line x1="146.5" y1="336.5" x2="143.2" y2="336.5" stroke="#000" stroke-width="0.9"/>
<line x1="146.5" y1="306.2" x2="143.2" y2="306.2" stroke="#000" stroke-width="0.9"/>
<line x1="146.5" y1="276.0" x2="143.2" y2="276.0" stroke="#000" stroke-width="0.9"/>
<line x1="146.5" y1="215.4" x2="143.2" y2="215.4" stroke="#000" stroke-width="0.9"/>
<line x1="146.5" y1="185.2" x2="143.2" y2="185.2" stroke="#000" stroke-width="0.9"/>
<line x1="146.5" y1="154.9" x2="143.2" y2="154.9" stroke="#000" stroke-width="0.9"/>
<line x1="146.5" y1="124.7" x2="143.2" y2="124.7" stroke="#000" stroke-width="0.9"/>
<line x1="146.5" y1="64.1" x2="143.2" y2="64.1" stroke="#000" stroke-width="0.9"/>
<line x1="146.5" y1="33.9" x2="143.2" y2="33.9" stroke="#000" stroke-width="0.9"/>
<rect x="1229.5" y="13" width="266" height="35.5" rx="6" ry="6" fill="#fff" fill-opacity="0.45" stroke="#7a7a7a" stroke-width="1.3"/>
<text x="1235.8" y="38" font-size="22.2">14-Jan-2026 04:00 IST</text>
</svg></body></html>
